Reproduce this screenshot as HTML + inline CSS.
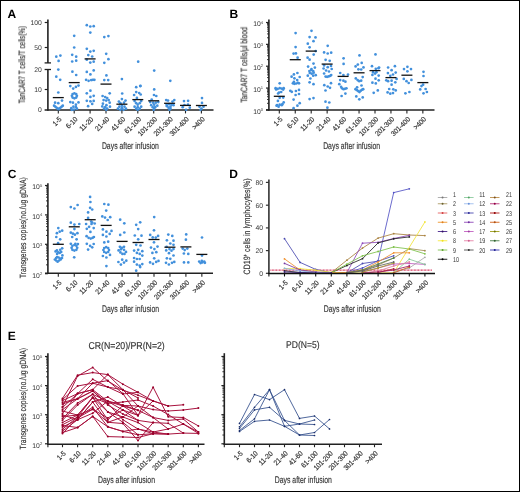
<!DOCTYPE html>
<html><head><meta charset="utf-8"><style>
html,body{margin:0;padding:0;background:#fff;}
body{width:520px;height:492px;overflow:hidden;}
svg{display:block;font-family:"Liberation Sans", sans-serif;will-change:transform;text-rendering:geometricPrecision;}
</style></head><body>
<svg width="520" height="492" viewBox="0 0 520 492">
<rect x="0.5" y="0.5" width="519" height="491" fill="#fff" stroke="#000" stroke-width="1"/>
<text x="7.4" y="17.55" font-size="12" text-anchor="start" fill="#000" font-weight="bold">A</text>
<text x="229.6" y="17.55" font-size="12" text-anchor="start" fill="#000" font-weight="bold">B</text>
<text x="7.7" y="177.5" font-size="12" text-anchor="start" fill="#000" font-weight="bold">C</text>
<text x="229.3" y="177.5" font-size="12" text-anchor="start" fill="#000" font-weight="bold">D</text>
<text x="7.8" y="340.4" font-size="12" text-anchor="start" fill="#000" font-weight="bold">E</text>
<line x1="47.9" y1="19.6" x2="47.9" y2="62.9" stroke="#222" stroke-width="1.6"/>
<line x1="44.6" y1="62.9" x2="51" y2="62.9" stroke="#222" stroke-width="1.3"/>
<line x1="44.7" y1="22.5" x2="47.9" y2="22.5" stroke="#222" stroke-width="1.2"/>
<line x1="44.7" y1="47.5" x2="47.9" y2="47.5" stroke="#222" stroke-width="1.2"/>
<line x1="47.9" y1="69.5" x2="47.9" y2="110.8" stroke="#222" stroke-width="1.6"/>
<line x1="44.6" y1="69.5" x2="51" y2="69.5" stroke="#222" stroke-width="1.3"/>
<line x1="44.7" y1="89.5" x2="47.9" y2="89.5" stroke="#222" stroke-width="1.2"/>
<text x="41.8" y="24.9" font-size="6.8" text-anchor="end" fill="#383838">100</text>
<text x="41.8" y="49.9" font-size="6.8" text-anchor="end" fill="#383838">50</text>
<text x="41.8" y="71.7" font-size="6.8" text-anchor="end" fill="#383838">20</text>
<text x="41.8" y="91.9" font-size="6.8" text-anchor="end" fill="#383838">10</text>
<text x="41.8" y="112.4" font-size="6.8" text-anchor="end" fill="#383838">0</text>
<line x1="44.6" y1="110" x2="213.5" y2="110" stroke="#222" stroke-width="1.6"/>
<line x1="58.3" y1="110" x2="58.3" y2="113.4" stroke="#222" stroke-width="1.1"/>
<text x="62.1" y="119.8" font-size="7.2" text-anchor="end" fill="#333" textLength="9.36" lengthAdjust="spacingAndGlyphs" transform="rotate(-45 62.1 119.8)" stroke="#333" stroke-width="0.18">1-5</text>
<line x1="74.2" y1="110" x2="74.2" y2="113.4" stroke="#222" stroke-width="1.1"/>
<text x="78" y="119.8" font-size="7.2" text-anchor="end" fill="#333" textLength="12.96" lengthAdjust="spacingAndGlyphs" transform="rotate(-45 78 119.8)" stroke="#333" stroke-width="0.18">6-10</text>
<line x1="90.1" y1="110" x2="90.1" y2="113.4" stroke="#222" stroke-width="1.1"/>
<text x="93.9" y="119.8" font-size="7.2" text-anchor="end" fill="#333" textLength="16.57" lengthAdjust="spacingAndGlyphs" transform="rotate(-45 93.9 119.8)" stroke="#333" stroke-width="0.18">11-20</text>
<line x1="106" y1="110" x2="106" y2="113.4" stroke="#222" stroke-width="1.1"/>
<text x="109.8" y="119.8" font-size="7.2" text-anchor="end" fill="#333" textLength="16.57" lengthAdjust="spacingAndGlyphs" transform="rotate(-45 109.8 119.8)" stroke="#333" stroke-width="0.18">21-40</text>
<line x1="121.9" y1="110" x2="121.9" y2="113.4" stroke="#222" stroke-width="1.1"/>
<text x="125.7" y="119.8" font-size="7.2" text-anchor="end" fill="#333" textLength="16.57" lengthAdjust="spacingAndGlyphs" transform="rotate(-45 125.7 119.8)" stroke="#333" stroke-width="0.18">41-60</text>
<line x1="137.8" y1="110" x2="137.8" y2="113.4" stroke="#222" stroke-width="1.1"/>
<text x="141.6" y="119.8" font-size="7.2" text-anchor="end" fill="#333" textLength="20.17" lengthAdjust="spacingAndGlyphs" transform="rotate(-45 141.6 119.8)" stroke="#333" stroke-width="0.18">61-100</text>
<line x1="153.7" y1="110" x2="153.7" y2="113.4" stroke="#222" stroke-width="1.1"/>
<text x="157.5" y="119.8" font-size="7.2" text-anchor="end" fill="#333" textLength="23.78" lengthAdjust="spacingAndGlyphs" transform="rotate(-45 157.5 119.8)" stroke="#333" stroke-width="0.18">101-200</text>
<line x1="169.6" y1="110" x2="169.6" y2="113.4" stroke="#222" stroke-width="1.1"/>
<text x="173.4" y="119.8" font-size="7.2" text-anchor="end" fill="#333" textLength="23.78" lengthAdjust="spacingAndGlyphs" transform="rotate(-45 173.4 119.8)" stroke="#333" stroke-width="0.18">201-300</text>
<line x1="185.5" y1="110" x2="185.5" y2="113.4" stroke="#222" stroke-width="1.1"/>
<text x="189.3" y="119.8" font-size="7.2" text-anchor="end" fill="#333" textLength="23.78" lengthAdjust="spacingAndGlyphs" transform="rotate(-45 189.3 119.8)" stroke="#333" stroke-width="0.18">301-400</text>
<line x1="201.4" y1="110" x2="201.4" y2="113.4" stroke="#222" stroke-width="1.1"/>
<text x="205.2" y="119.8" font-size="7.2" text-anchor="end" fill="#333" textLength="14.59" lengthAdjust="spacingAndGlyphs" transform="rotate(-45 205.2 119.8)" stroke="#333" stroke-width="0.18">&gt;400</text>
<text x="24.7" y="64.65" font-size="9.2" text-anchor="middle" fill="#333" textLength="77.3" lengthAdjust="spacingAndGlyphs" transform="rotate(-90 24.7 64.65)" stroke="#333" stroke-width="0.15">TanCAR7 T cells/T cells(%)</text>
<text x="130.4" y="148.5" font-size="9.7" text-anchor="middle" fill="#333" textLength="57" lengthAdjust="spacingAndGlyphs" stroke="#333" stroke-width="0.15">Days after infusion</text>
<circle cx="56.3" cy="56.7" r="1.35" fill="#4290dc"/>
<circle cx="60.4" cy="55.6" r="1.35" fill="#4290dc"/>
<circle cx="58.6" cy="60.9" r="1.35" fill="#4290dc"/>
<circle cx="58.3" cy="69.6" r="1.35" fill="#4290dc"/>
<circle cx="56.3" cy="76.7" r="1.35" fill="#4290dc"/>
<circle cx="60.2" cy="79.8" r="1.35" fill="#4290dc"/>
<circle cx="58.3" cy="92.5" r="1.35" fill="#4290dc"/>
<circle cx="55.1" cy="102.7" r="1.35" fill="#4290dc"/>
<circle cx="58.3" cy="103.2" r="1.35" fill="#4290dc"/>
<circle cx="62" cy="100.6" r="1.35" fill="#4290dc"/>
<circle cx="54.1" cy="105.7" r="1.35" fill="#4290dc"/>
<circle cx="55.2" cy="106.6" r="1.35" fill="#4290dc"/>
<circle cx="56.3" cy="107.5" r="1.35" fill="#4290dc"/>
<circle cx="57.4" cy="108.4" r="1.35" fill="#4290dc"/>
<circle cx="58.5" cy="109.2" r="1.35" fill="#4290dc"/>
<circle cx="59.6" cy="108.4" r="1.35" fill="#4290dc"/>
<circle cx="60.7" cy="107.5" r="1.35" fill="#4290dc"/>
<circle cx="61.8" cy="106.6" r="1.35" fill="#4290dc"/>
<circle cx="62.8" cy="105.7" r="1.35" fill="#4290dc"/>
<circle cx="74.2" cy="35.8" r="1.35" fill="#4290dc"/>
<circle cx="74.2" cy="47.5" r="1.35" fill="#4290dc"/>
<circle cx="72.2" cy="54.8" r="1.35" fill="#4290dc"/>
<circle cx="76.2" cy="56.7" r="1.35" fill="#4290dc"/>
<circle cx="72.2" cy="61.5" r="1.35" fill="#4290dc"/>
<circle cx="76.2" cy="60.7" r="1.35" fill="#4290dc"/>
<circle cx="72.4" cy="71.7" r="1.35" fill="#4290dc"/>
<circle cx="76.2" cy="75" r="1.35" fill="#4290dc"/>
<circle cx="70.3" cy="86.1" r="1.35" fill="#4290dc"/>
<circle cx="73.2" cy="88.6" r="1.35" fill="#4290dc"/>
<circle cx="75.9" cy="86.9" r="1.35" fill="#4290dc"/>
<circle cx="78.5" cy="85.6" r="1.35" fill="#4290dc"/>
<circle cx="76.9" cy="95.8" r="1.35" fill="#4290dc"/>
<circle cx="76.17" cy="97.57" r="1.35" fill="#4290dc"/>
<circle cx="74.4" cy="98.3" r="1.35" fill="#4290dc"/>
<circle cx="72.63" cy="97.57" r="1.35" fill="#4290dc"/>
<circle cx="71.9" cy="95.8" r="1.35" fill="#4290dc"/>
<circle cx="72.63" cy="94.03" r="1.35" fill="#4290dc"/>
<circle cx="74.4" cy="93.3" r="1.35" fill="#4290dc"/>
<circle cx="76.17" cy="94.03" r="1.35" fill="#4290dc"/>
<circle cx="70.3" cy="102.1" r="1.35" fill="#4290dc"/>
<circle cx="72.9" cy="102.7" r="1.35" fill="#4290dc"/>
<circle cx="78.5" cy="102.4" r="1.35" fill="#4290dc"/>
<circle cx="75.9" cy="104.7" r="1.35" fill="#4290dc"/>
<circle cx="71.3" cy="108.2" r="1.35" fill="#4290dc"/>
<circle cx="73.4" cy="106.7" r="1.35" fill="#4290dc"/>
<circle cx="75.9" cy="107.2" r="1.35" fill="#4290dc"/>
<circle cx="76.9" cy="108.7" r="1.35" fill="#4290dc"/>
<circle cx="71.8" cy="109.8" r="1.35" fill="#4290dc"/>
<circle cx="74" cy="109.5" r="1.35" fill="#4290dc"/>
<circle cx="86.8" cy="25.2" r="1.35" fill="#4290dc"/>
<circle cx="90.3" cy="26.5" r="1.35" fill="#4290dc"/>
<circle cx="93.7" cy="26.2" r="1.35" fill="#4290dc"/>
<circle cx="90.3" cy="32.6" r="1.35" fill="#4290dc"/>
<circle cx="86.8" cy="48.8" r="1.35" fill="#4290dc"/>
<circle cx="90.3" cy="51.6" r="1.35" fill="#4290dc"/>
<circle cx="93.7" cy="50.8" r="1.35" fill="#4290dc"/>
<circle cx="88.3" cy="55.1" r="1.35" fill="#4290dc"/>
<circle cx="92.2" cy="56.5" r="1.35" fill="#4290dc"/>
<circle cx="86.8" cy="59.7" r="1.35" fill="#4290dc"/>
<circle cx="90.3" cy="62.6" r="1.35" fill="#4290dc"/>
<circle cx="93.7" cy="61.7" r="1.35" fill="#4290dc"/>
<circle cx="86.8" cy="71.9" r="1.35" fill="#4290dc"/>
<circle cx="90.4" cy="74.4" r="1.35" fill="#4290dc"/>
<circle cx="93.7" cy="70.4" r="1.35" fill="#4290dc"/>
<circle cx="86.1" cy="79.8" r="1.35" fill="#4290dc"/>
<circle cx="88.6" cy="80.8" r="1.35" fill="#4290dc"/>
<circle cx="91.2" cy="80.1" r="1.35" fill="#4290dc"/>
<circle cx="92.9" cy="79.8" r="1.35" fill="#4290dc"/>
<circle cx="94.4" cy="79.8" r="1.35" fill="#4290dc"/>
<circle cx="90.4" cy="90.7" r="1.35" fill="#4290dc"/>
<circle cx="86.8" cy="93.3" r="1.35" fill="#4290dc"/>
<circle cx="90.4" cy="96.9" r="1.35" fill="#4290dc"/>
<circle cx="93.7" cy="95.8" r="1.35" fill="#4290dc"/>
<circle cx="86.8" cy="100.8" r="1.35" fill="#4290dc"/>
<circle cx="90.4" cy="101.3" r="1.35" fill="#4290dc"/>
<circle cx="93.7" cy="100.9" r="1.35" fill="#4290dc"/>
<circle cx="92.2" cy="103.9" r="1.35" fill="#4290dc"/>
<circle cx="88.1" cy="106.2" r="1.35" fill="#4290dc"/>
<circle cx="104.3" cy="37.1" r="1.35" fill="#4290dc"/>
<circle cx="108.4" cy="36.1" r="1.35" fill="#4290dc"/>
<circle cx="106.2" cy="53.8" r="1.35" fill="#4290dc"/>
<circle cx="108.4" cy="59.2" r="1.35" fill="#4290dc"/>
<circle cx="104.3" cy="62.8" r="1.35" fill="#4290dc"/>
<circle cx="106.4" cy="75.4" r="1.35" fill="#4290dc"/>
<circle cx="104.3" cy="80.1" r="1.35" fill="#4290dc"/>
<circle cx="108.2" cy="80.1" r="1.35" fill="#4290dc"/>
<circle cx="109.7" cy="93.3" r="1.35" fill="#4290dc"/>
<circle cx="102.6" cy="96" r="1.35" fill="#4290dc"/>
<circle cx="105.2" cy="97.1" r="1.35" fill="#4290dc"/>
<circle cx="107.2" cy="98.1" r="1.35" fill="#4290dc"/>
<circle cx="103.6" cy="100.1" r="1.35" fill="#4290dc"/>
<circle cx="106.2" cy="100.6" r="1.35" fill="#4290dc"/>
<circle cx="108.7" cy="100.1" r="1.35" fill="#4290dc"/>
<circle cx="109.7" cy="102.7" r="1.35" fill="#4290dc"/>
<circle cx="102.9" cy="103.7" r="1.35" fill="#4290dc"/>
<circle cx="106.4" cy="105.2" r="1.35" fill="#4290dc"/>
<circle cx="102.3" cy="106.4" r="1.35" fill="#4290dc"/>
<circle cx="110" cy="106.7" r="1.35" fill="#4290dc"/>
<circle cx="105.2" cy="107.2" r="1.35" fill="#4290dc"/>
<circle cx="104.1" cy="108.5" r="1.35" fill="#4290dc"/>
<circle cx="107.2" cy="108.5" r="1.35" fill="#4290dc"/>
<circle cx="106.2" cy="109.8" r="1.35" fill="#4290dc"/>
<circle cx="121.9" cy="79.1" r="1.35" fill="#4290dc"/>
<circle cx="122.2" cy="93.5" r="1.35" fill="#4290dc"/>
<circle cx="121.9" cy="99.1" r="1.35" fill="#4290dc"/>
<circle cx="118.9" cy="101.6" r="1.35" fill="#4290dc"/>
<circle cx="125.5" cy="100.6" r="1.35" fill="#4290dc"/>
<circle cx="120.4" cy="103.2" r="1.35" fill="#4290dc"/>
<circle cx="124" cy="102.7" r="1.35" fill="#4290dc"/>
<circle cx="119.4" cy="106.7" r="1.35" fill="#4290dc"/>
<circle cx="124.5" cy="106.7" r="1.35" fill="#4290dc"/>
<circle cx="121.9" cy="105.7" r="1.35" fill="#4290dc"/>
<circle cx="117.9" cy="108.7" r="1.35" fill="#4290dc"/>
<circle cx="126" cy="108.7" r="1.35" fill="#4290dc"/>
<circle cx="121.9" cy="108.2" r="1.35" fill="#4290dc"/>
<circle cx="120.4" cy="109.8" r="1.35" fill="#4290dc"/>
<circle cx="123.5" cy="109.8" r="1.35" fill="#4290dc"/>
<circle cx="138.2" cy="61.7" r="1.35" fill="#4290dc"/>
<circle cx="140.5" cy="85.9" r="1.35" fill="#4290dc"/>
<circle cx="136.2" cy="87.2" r="1.35" fill="#4290dc"/>
<circle cx="140.2" cy="86.1" r="1.35" fill="#4290dc"/>
<circle cx="136.2" cy="92.1" r="1.35" fill="#4290dc"/>
<circle cx="134.1" cy="95" r="1.35" fill="#4290dc"/>
<circle cx="139.2" cy="93" r="1.35" fill="#4290dc"/>
<circle cx="140.7" cy="94.5" r="1.35" fill="#4290dc"/>
<circle cx="136.9" cy="97.9" r="1.35" fill="#4290dc"/>
<circle cx="134.6" cy="101.1" r="1.35" fill="#4290dc"/>
<circle cx="141.2" cy="101.1" r="1.35" fill="#4290dc"/>
<circle cx="136.2" cy="103.2" r="1.35" fill="#4290dc"/>
<circle cx="139.7" cy="103.2" r="1.35" fill="#4290dc"/>
<circle cx="137.7" cy="104.7" r="1.35" fill="#4290dc"/>
<circle cx="134.6" cy="106.7" r="1.35" fill="#4290dc"/>
<circle cx="141.2" cy="106.7" r="1.35" fill="#4290dc"/>
<circle cx="137.7" cy="107.2" r="1.35" fill="#4290dc"/>
<circle cx="136.2" cy="108.7" r="1.35" fill="#4290dc"/>
<circle cx="139.7" cy="108.7" r="1.35" fill="#4290dc"/>
<circle cx="137.7" cy="109.8" r="1.35" fill="#4290dc"/>
<circle cx="154.2" cy="70.6" r="1.35" fill="#4290dc"/>
<circle cx="154.2" cy="89.4" r="1.35" fill="#4290dc"/>
<circle cx="154" cy="95" r="1.35" fill="#4290dc"/>
<circle cx="156.3" cy="96" r="1.35" fill="#4290dc"/>
<circle cx="151.7" cy="99.6" r="1.35" fill="#4290dc"/>
<circle cx="150.2" cy="102.1" r="1.35" fill="#4290dc"/>
<circle cx="153.2" cy="102.7" r="1.35" fill="#4290dc"/>
<circle cx="155.8" cy="102.7" r="1.35" fill="#4290dc"/>
<circle cx="158.3" cy="102.1" r="1.35" fill="#4290dc"/>
<circle cx="151.2" cy="105.2" r="1.35" fill="#4290dc"/>
<circle cx="154.2" cy="104.7" r="1.35" fill="#4290dc"/>
<circle cx="157.3" cy="105.7" r="1.35" fill="#4290dc"/>
<circle cx="152.7" cy="107.2" r="1.35" fill="#4290dc"/>
<circle cx="155.2" cy="107.2" r="1.35" fill="#4290dc"/>
<circle cx="154.2" cy="108.7" r="1.35" fill="#4290dc"/>
<circle cx="153.7" cy="109.8" r="1.35" fill="#4290dc"/>
<circle cx="170.3" cy="80.8" r="1.35" fill="#4290dc"/>
<circle cx="166.2" cy="100.1" r="1.35" fill="#4290dc"/>
<circle cx="168" cy="100.6" r="1.35" fill="#4290dc"/>
<circle cx="172.5" cy="101.6" r="1.35" fill="#4290dc"/>
<circle cx="174.3" cy="100.1" r="1.35" fill="#4290dc"/>
<circle cx="166.6" cy="104.7" r="1.35" fill="#4290dc"/>
<circle cx="169" cy="104.2" r="1.35" fill="#4290dc"/>
<circle cx="171.5" cy="104.7" r="1.35" fill="#4290dc"/>
<circle cx="173.5" cy="105.2" r="1.35" fill="#4290dc"/>
<circle cx="166.9" cy="106.2" r="1.35" fill="#4290dc"/>
<circle cx="170.5" cy="106.7" r="1.35" fill="#4290dc"/>
<circle cx="168.5" cy="107.7" r="1.35" fill="#4290dc"/>
<circle cx="170.5" cy="108.7" r="1.35" fill="#4290dc"/>
<circle cx="169.5" cy="109.8" r="1.35" fill="#4290dc"/>
<circle cx="184" cy="101.1" r="1.35" fill="#4290dc"/>
<circle cx="188.1" cy="100.8" r="1.35" fill="#4290dc"/>
<circle cx="182.7" cy="107.2" r="1.35" fill="#4290dc"/>
<circle cx="189.8" cy="107.7" r="1.35" fill="#4290dc"/>
<circle cx="186.1" cy="109.8" r="1.35" fill="#4290dc"/>
<circle cx="184.5" cy="105" r="1.35" fill="#4290dc"/>
<circle cx="188" cy="104.5" r="1.35" fill="#4290dc"/>
<circle cx="202" cy="98.1" r="1.35" fill="#4290dc"/>
<circle cx="202" cy="102.9" r="1.35" fill="#4290dc"/>
<circle cx="199.5" cy="106.7" r="1.35" fill="#4290dc"/>
<circle cx="203.5" cy="106.7" r="1.35" fill="#4290dc"/>
<circle cx="201.5" cy="108.7" r="1.35" fill="#4290dc"/>
<circle cx="200.5" cy="109.8" r="1.35" fill="#4290dc"/>
<line x1="52.8" y1="97.6" x2="63.8" y2="97.6" stroke="#111" stroke-width="1.3"/>
<line x1="68.7" y1="82.6" x2="79.7" y2="82.6" stroke="#111" stroke-width="1.3"/>
<line x1="84.6" y1="58.9" x2="95.6" y2="58.9" stroke="#111" stroke-width="1.3"/>
<line x1="100.5" y1="84.1" x2="111.5" y2="84.1" stroke="#111" stroke-width="1.3"/>
<line x1="116.4" y1="104.2" x2="127.4" y2="104.2" stroke="#111" stroke-width="1.3"/>
<line x1="132.3" y1="99.6" x2="143.3" y2="99.6" stroke="#111" stroke-width="1.3"/>
<line x1="148.2" y1="100.8" x2="159.2" y2="100.8" stroke="#111" stroke-width="1.3"/>
<line x1="164.1" y1="103.3" x2="175.1" y2="103.3" stroke="#111" stroke-width="1.3"/>
<line x1="180" y1="105.4" x2="191" y2="105.4" stroke="#111" stroke-width="1.3"/>
<line x1="195.9" y1="105.5" x2="206.9" y2="105.5" stroke="#111" stroke-width="1.3"/>
<line x1="268.9" y1="19.6" x2="268.9" y2="110.8" stroke="#222" stroke-width="1.6"/>
<line x1="266" y1="22.5" x2="268.9" y2="22.5" stroke="#222" stroke-width="1.2"/>
<text x="263" y="26.4" font-size="6.8" text-anchor="end" fill="#383838">10<tspan font-size="4.1" dy="-2.7">4</tspan></text>
<line x1="267" y1="37.77" x2="268.9" y2="37.77" stroke="#222" stroke-width="0.9"/>
<line x1="267" y1="33.92" x2="268.9" y2="33.92" stroke="#222" stroke-width="0.9"/>
<line x1="267" y1="31.19" x2="268.9" y2="31.19" stroke="#222" stroke-width="0.9"/>
<line x1="267" y1="29.08" x2="268.9" y2="29.08" stroke="#222" stroke-width="0.9"/>
<line x1="267" y1="27.35" x2="268.9" y2="27.35" stroke="#222" stroke-width="0.9"/>
<line x1="267" y1="25.88" x2="268.9" y2="25.88" stroke="#222" stroke-width="0.9"/>
<line x1="267" y1="24.62" x2="268.9" y2="24.62" stroke="#222" stroke-width="0.9"/>
<line x1="267" y1="23.5" x2="268.9" y2="23.5" stroke="#222" stroke-width="0.9"/>
<line x1="266" y1="44.35" x2="268.9" y2="44.35" stroke="#222" stroke-width="1.2"/>
<text x="263" y="48.25" font-size="6.8" text-anchor="end" fill="#383838">10<tspan font-size="4.1" dy="-2.7">3</tspan></text>
<line x1="267" y1="59.62" x2="268.9" y2="59.62" stroke="#222" stroke-width="0.9"/>
<line x1="267" y1="55.77" x2="268.9" y2="55.77" stroke="#222" stroke-width="0.9"/>
<line x1="267" y1="53.04" x2="268.9" y2="53.04" stroke="#222" stroke-width="0.9"/>
<line x1="267" y1="50.93" x2="268.9" y2="50.93" stroke="#222" stroke-width="0.9"/>
<line x1="267" y1="49.2" x2="268.9" y2="49.2" stroke="#222" stroke-width="0.9"/>
<line x1="267" y1="47.73" x2="268.9" y2="47.73" stroke="#222" stroke-width="0.9"/>
<line x1="267" y1="46.47" x2="268.9" y2="46.47" stroke="#222" stroke-width="0.9"/>
<line x1="267" y1="45.35" x2="268.9" y2="45.35" stroke="#222" stroke-width="0.9"/>
<line x1="266" y1="66.2" x2="268.9" y2="66.2" stroke="#222" stroke-width="1.2"/>
<text x="263" y="70.1" font-size="6.8" text-anchor="end" fill="#383838">10<tspan font-size="4.1" dy="-2.7">2</tspan></text>
<line x1="267" y1="81.47" x2="268.9" y2="81.47" stroke="#222" stroke-width="0.9"/>
<line x1="267" y1="77.62" x2="268.9" y2="77.62" stroke="#222" stroke-width="0.9"/>
<line x1="267" y1="74.89" x2="268.9" y2="74.89" stroke="#222" stroke-width="0.9"/>
<line x1="267" y1="72.78" x2="268.9" y2="72.78" stroke="#222" stroke-width="0.9"/>
<line x1="267" y1="71.05" x2="268.9" y2="71.05" stroke="#222" stroke-width="0.9"/>
<line x1="267" y1="69.58" x2="268.9" y2="69.58" stroke="#222" stroke-width="0.9"/>
<line x1="267" y1="68.32" x2="268.9" y2="68.32" stroke="#222" stroke-width="0.9"/>
<line x1="267" y1="67.2" x2="268.9" y2="67.2" stroke="#222" stroke-width="0.9"/>
<line x1="266" y1="88.05" x2="268.9" y2="88.05" stroke="#222" stroke-width="1.2"/>
<text x="263" y="91.95" font-size="6.8" text-anchor="end" fill="#383838">10<tspan font-size="4.1" dy="-2.7">1</tspan></text>
<line x1="267" y1="103.32" x2="268.9" y2="103.32" stroke="#222" stroke-width="0.9"/>
<line x1="267" y1="99.47" x2="268.9" y2="99.47" stroke="#222" stroke-width="0.9"/>
<line x1="267" y1="96.74" x2="268.9" y2="96.74" stroke="#222" stroke-width="0.9"/>
<line x1="267" y1="94.63" x2="268.9" y2="94.63" stroke="#222" stroke-width="0.9"/>
<line x1="267" y1="92.9" x2="268.9" y2="92.9" stroke="#222" stroke-width="0.9"/>
<line x1="267" y1="91.43" x2="268.9" y2="91.43" stroke="#222" stroke-width="0.9"/>
<line x1="267" y1="90.17" x2="268.9" y2="90.17" stroke="#222" stroke-width="0.9"/>
<line x1="267" y1="89.05" x2="268.9" y2="89.05" stroke="#222" stroke-width="0.9"/>
<line x1="266" y1="109.9" x2="268.9" y2="109.9" stroke="#222" stroke-width="1.2"/>
<text x="263" y="113.8" font-size="6.8" text-anchor="end" fill="#383838">10<tspan font-size="4.1" dy="-2.7">0</tspan></text>
<line x1="266" y1="110" x2="434.5" y2="110" stroke="#222" stroke-width="1.6"/>
<line x1="279.3" y1="110" x2="279.3" y2="113.4" stroke="#222" stroke-width="1.1"/>
<text x="283.1" y="119.8" font-size="7.2" text-anchor="end" fill="#333" textLength="9.36" lengthAdjust="spacingAndGlyphs" transform="rotate(-45 283.1 119.8)" stroke="#333" stroke-width="0.18">1-5</text>
<line x1="295.25" y1="110" x2="295.25" y2="113.4" stroke="#222" stroke-width="1.1"/>
<text x="299.05" y="119.8" font-size="7.2" text-anchor="end" fill="#333" textLength="12.96" lengthAdjust="spacingAndGlyphs" transform="rotate(-45 299.05 119.8)" stroke="#333" stroke-width="0.18">6-10</text>
<line x1="311.2" y1="110" x2="311.2" y2="113.4" stroke="#222" stroke-width="1.1"/>
<text x="315" y="119.8" font-size="7.2" text-anchor="end" fill="#333" textLength="16.57" lengthAdjust="spacingAndGlyphs" transform="rotate(-45 315 119.8)" stroke="#333" stroke-width="0.18">11-20</text>
<line x1="327.15" y1="110" x2="327.15" y2="113.4" stroke="#222" stroke-width="1.1"/>
<text x="330.95" y="119.8" font-size="7.2" text-anchor="end" fill="#333" textLength="16.57" lengthAdjust="spacingAndGlyphs" transform="rotate(-45 330.95 119.8)" stroke="#333" stroke-width="0.18">21-40</text>
<line x1="343.1" y1="110" x2="343.1" y2="113.4" stroke="#222" stroke-width="1.1"/>
<text x="346.9" y="119.8" font-size="7.2" text-anchor="end" fill="#333" textLength="16.57" lengthAdjust="spacingAndGlyphs" transform="rotate(-45 346.9 119.8)" stroke="#333" stroke-width="0.18">41-60</text>
<line x1="359.05" y1="110" x2="359.05" y2="113.4" stroke="#222" stroke-width="1.1"/>
<text x="362.85" y="119.8" font-size="7.2" text-anchor="end" fill="#333" textLength="20.17" lengthAdjust="spacingAndGlyphs" transform="rotate(-45 362.85 119.8)" stroke="#333" stroke-width="0.18">61-100</text>
<line x1="375" y1="110" x2="375" y2="113.4" stroke="#222" stroke-width="1.1"/>
<text x="378.8" y="119.8" font-size="7.2" text-anchor="end" fill="#333" textLength="23.78" lengthAdjust="spacingAndGlyphs" transform="rotate(-45 378.8 119.8)" stroke="#333" stroke-width="0.18">101-200</text>
<line x1="390.95" y1="110" x2="390.95" y2="113.4" stroke="#222" stroke-width="1.1"/>
<text x="394.75" y="119.8" font-size="7.2" text-anchor="end" fill="#333" textLength="23.78" lengthAdjust="spacingAndGlyphs" transform="rotate(-45 394.75 119.8)" stroke="#333" stroke-width="0.18">201-300</text>
<line x1="406.9" y1="110" x2="406.9" y2="113.4" stroke="#222" stroke-width="1.1"/>
<text x="410.7" y="119.8" font-size="7.2" text-anchor="end" fill="#333" textLength="23.78" lengthAdjust="spacingAndGlyphs" transform="rotate(-45 410.7 119.8)" stroke="#333" stroke-width="0.18">301-400</text>
<line x1="422.85" y1="110" x2="422.85" y2="113.4" stroke="#222" stroke-width="1.1"/>
<text x="426.65" y="119.8" font-size="7.2" text-anchor="end" fill="#333" textLength="14.59" lengthAdjust="spacingAndGlyphs" transform="rotate(-45 426.65 119.8)" stroke="#333" stroke-width="0.18">&gt;400</text>
<text x="247" y="64.8" font-size="9.2" text-anchor="middle" fill="#333" textLength="75.6" lengthAdjust="spacingAndGlyphs" transform="rotate(-90 247 64.8)" stroke="#333" stroke-width="0.15">TanCAR7 T cells/μl blood</text>
<text x="351.65" y="148.5" font-size="9.7" text-anchor="middle" fill="#333" textLength="57" lengthAdjust="spacingAndGlyphs" stroke="#333" stroke-width="0.15">Days after infusion</text>
<circle cx="279.7" cy="83.3" r="1.35" fill="#4290dc"/>
<circle cx="275.6" cy="88.2" r="1.35" fill="#4290dc"/>
<circle cx="277.6" cy="88.9" r="1.35" fill="#4290dc"/>
<circle cx="279.7" cy="88.2" r="1.35" fill="#4290dc"/>
<circle cx="281.7" cy="88.6" r="1.35" fill="#4290dc"/>
<circle cx="283.7" cy="88.2" r="1.35" fill="#4290dc"/>
<circle cx="276.1" cy="89.4" r="1.35" fill="#4290dc"/>
<circle cx="283.2" cy="89.6" r="1.35" fill="#4290dc"/>
<circle cx="279.1" cy="92.5" r="1.35" fill="#4290dc"/>
<circle cx="281.2" cy="92" r="1.35" fill="#4290dc"/>
<circle cx="278.1" cy="93.5" r="1.35" fill="#4290dc"/>
<circle cx="279.7" cy="97.8" r="1.35" fill="#4290dc"/>
<circle cx="283.2" cy="97.6" r="1.35" fill="#4290dc"/>
<circle cx="277.9" cy="100.9" r="1.35" fill="#4290dc"/>
<circle cx="283.7" cy="102.4" r="1.35" fill="#4290dc"/>
<circle cx="277.1" cy="105.2" r="1.35" fill="#4290dc"/>
<circle cx="279.7" cy="104.7" r="1.35" fill="#4290dc"/>
<circle cx="281.7" cy="105.2" r="1.35" fill="#4290dc"/>
<circle cx="282.4" cy="104.2" r="1.35" fill="#4290dc"/>
<circle cx="278.6" cy="106.7" r="1.35" fill="#4290dc"/>
<circle cx="276.6" cy="105.7" r="1.35" fill="#4290dc"/>
<circle cx="295.6" cy="33.1" r="1.35" fill="#4290dc"/>
<circle cx="295.6" cy="47.1" r="1.35" fill="#4290dc"/>
<circle cx="293.6" cy="53.6" r="1.35" fill="#4290dc"/>
<circle cx="295.9" cy="53.4" r="1.35" fill="#4290dc"/>
<circle cx="297.6" cy="57.7" r="1.35" fill="#4290dc"/>
<circle cx="293.9" cy="74.4" r="1.35" fill="#4290dc"/>
<circle cx="297.4" cy="73" r="1.35" fill="#4290dc"/>
<circle cx="291.6" cy="76.7" r="1.35" fill="#4290dc"/>
<circle cx="294.4" cy="78.3" r="1.35" fill="#4290dc"/>
<circle cx="299.7" cy="77" r="1.35" fill="#4290dc"/>
<circle cx="297.2" cy="80.1" r="1.35" fill="#4290dc"/>
<circle cx="292.9" cy="83.3" r="1.35" fill="#4290dc"/>
<circle cx="294.4" cy="83.8" r="1.35" fill="#4290dc"/>
<circle cx="296.2" cy="83.5" r="1.35" fill="#4290dc"/>
<circle cx="297.9" cy="82.8" r="1.35" fill="#4290dc"/>
<circle cx="293.9" cy="81.8" r="1.35" fill="#4290dc"/>
<circle cx="299" cy="83.3" r="1.35" fill="#4290dc"/>
<circle cx="290.3" cy="90.8" r="1.35" fill="#4290dc"/>
<circle cx="291.8" cy="91.8" r="1.35" fill="#4290dc"/>
<circle cx="295.9" cy="91" r="1.35" fill="#4290dc"/>
<circle cx="299" cy="89.9" r="1.35" fill="#4290dc"/>
<circle cx="299" cy="94" r="1.35" fill="#4290dc"/>
<circle cx="295.6" cy="95" r="1.35" fill="#4290dc"/>
<circle cx="293.6" cy="99.6" r="1.35" fill="#4290dc"/>
<circle cx="299.7" cy="103.2" r="1.35" fill="#4290dc"/>
<circle cx="297.4" cy="105.7" r="1.35" fill="#4290dc"/>
<circle cx="293.6" cy="108.2" r="1.35" fill="#4290dc"/>
<circle cx="311.5" cy="30.8" r="1.35" fill="#4290dc"/>
<circle cx="309.6" cy="37.1" r="1.35" fill="#4290dc"/>
<circle cx="315.5" cy="37.4" r="1.35" fill="#4290dc"/>
<circle cx="313.5" cy="41.2" r="1.35" fill="#4290dc"/>
<circle cx="307.8" cy="43.7" r="1.35" fill="#4290dc"/>
<circle cx="309.6" cy="47.3" r="1.35" fill="#4290dc"/>
<circle cx="315.7" cy="51.1" r="1.35" fill="#4290dc"/>
<circle cx="313.7" cy="54.6" r="1.35" fill="#4290dc"/>
<circle cx="307.6" cy="57.7" r="1.35" fill="#4290dc"/>
<circle cx="309.6" cy="59.7" r="1.35" fill="#4290dc"/>
<circle cx="313.5" cy="63.6" r="1.35" fill="#4290dc"/>
<circle cx="308.1" cy="66.6" r="1.35" fill="#4290dc"/>
<circle cx="314.9" cy="67.6" r="1.35" fill="#4290dc"/>
<circle cx="311.5" cy="69.1" r="1.35" fill="#4290dc"/>
<circle cx="309.4" cy="71.1" r="1.35" fill="#4290dc"/>
<circle cx="311.2" cy="70.1" r="1.35" fill="#4290dc"/>
<circle cx="313.2" cy="71.1" r="1.35" fill="#4290dc"/>
<circle cx="313.7" cy="72.7" r="1.35" fill="#4290dc"/>
<circle cx="311.7" cy="73.7" r="1.35" fill="#4290dc"/>
<circle cx="309.8" cy="73" r="1.35" fill="#4290dc"/>
<circle cx="307.8" cy="75.7" r="1.35" fill="#4290dc"/>
<circle cx="313.2" cy="75.7" r="1.35" fill="#4290dc"/>
<circle cx="315.7" cy="75.2" r="1.35" fill="#4290dc"/>
<circle cx="310.4" cy="78.5" r="1.35" fill="#4290dc"/>
<circle cx="309.6" cy="82.3" r="1.35" fill="#4290dc"/>
<circle cx="313.5" cy="84.2" r="1.35" fill="#4290dc"/>
<circle cx="309.6" cy="99.1" r="1.35" fill="#4290dc"/>
<circle cx="313.5" cy="98.1" r="1.35" fill="#4290dc"/>
<circle cx="327.7" cy="45.8" r="1.35" fill="#4290dc"/>
<circle cx="324.1" cy="52.4" r="1.35" fill="#4290dc"/>
<circle cx="327.7" cy="53.5" r="1.35" fill="#4290dc"/>
<circle cx="331.2" cy="52.7" r="1.35" fill="#4290dc"/>
<circle cx="325.6" cy="59.8" r="1.35" fill="#4290dc"/>
<circle cx="329.7" cy="60.8" r="1.35" fill="#4290dc"/>
<circle cx="324.1" cy="65.4" r="1.35" fill="#4290dc"/>
<circle cx="331" cy="65.9" r="1.35" fill="#4290dc"/>
<circle cx="327.7" cy="67.2" r="1.35" fill="#4290dc"/>
<circle cx="323.6" cy="68.5" r="1.35" fill="#4290dc"/>
<circle cx="331.7" cy="69" r="1.35" fill="#4290dc"/>
<circle cx="326.1" cy="70.5" r="1.35" fill="#4290dc"/>
<circle cx="329" cy="71.5" r="1.35" fill="#4290dc"/>
<circle cx="324.1" cy="73.5" r="1.35" fill="#4290dc"/>
<circle cx="331.2" cy="75.1" r="1.35" fill="#4290dc"/>
<circle cx="325.6" cy="76.6" r="1.35" fill="#4290dc"/>
<circle cx="327.1" cy="76.8" r="1.35" fill="#4290dc"/>
<circle cx="328.7" cy="76.4" r="1.35" fill="#4290dc"/>
<circle cx="330.2" cy="75.8" r="1.35" fill="#4290dc"/>
<circle cx="331" cy="83.2" r="1.35" fill="#4290dc"/>
<circle cx="324.3" cy="85.2" r="1.35" fill="#4290dc"/>
<circle cx="327.7" cy="86.5" r="1.35" fill="#4290dc"/>
<circle cx="330" cy="87.8" r="1.35" fill="#4290dc"/>
<circle cx="325.5" cy="90.5" r="1.35" fill="#4290dc"/>
<circle cx="325.5" cy="101.7" r="1.35" fill="#4290dc"/>
<circle cx="329.3" cy="102.5" r="1.35" fill="#4290dc"/>
<circle cx="327.4" cy="107.7" r="1.35" fill="#4290dc"/>
<circle cx="343.6" cy="58.3" r="1.35" fill="#4290dc"/>
<circle cx="343.6" cy="63.9" r="1.35" fill="#4290dc"/>
<circle cx="340.2" cy="73" r="1.35" fill="#4290dc"/>
<circle cx="343.4" cy="75.1" r="1.35" fill="#4290dc"/>
<circle cx="348" cy="74.6" r="1.35" fill="#4290dc"/>
<circle cx="340.2" cy="80.1" r="1.35" fill="#4290dc"/>
<circle cx="343.4" cy="80.7" r="1.35" fill="#4290dc"/>
<circle cx="345.4" cy="81.7" r="1.35" fill="#4290dc"/>
<circle cx="339.3" cy="84.2" r="1.35" fill="#4290dc"/>
<circle cx="341.1" cy="86.8" r="1.35" fill="#4290dc"/>
<circle cx="342" cy="88.3" r="1.35" fill="#4290dc"/>
<circle cx="343.5" cy="89.2" r="1.35" fill="#4290dc"/>
<circle cx="344.9" cy="88.8" r="1.35" fill="#4290dc"/>
<circle cx="346.4" cy="88.3" r="1.35" fill="#4290dc"/>
<circle cx="345.4" cy="93.6" r="1.35" fill="#4290dc"/>
<circle cx="341.6" cy="96" r="1.35" fill="#4290dc"/>
<circle cx="359.5" cy="55.4" r="1.35" fill="#4290dc"/>
<circle cx="361.7" cy="62.9" r="1.35" fill="#4290dc"/>
<circle cx="357.8" cy="64.6" r="1.35" fill="#4290dc"/>
<circle cx="355.6" cy="66.4" r="1.35" fill="#4290dc"/>
<circle cx="363.5" cy="67.4" r="1.35" fill="#4290dc"/>
<circle cx="358.4" cy="69.3" r="1.35" fill="#4290dc"/>
<circle cx="361.2" cy="69.5" r="1.35" fill="#4290dc"/>
<circle cx="362.7" cy="77.1" r="1.35" fill="#4290dc"/>
<circle cx="355.8" cy="78.4" r="1.35" fill="#4290dc"/>
<circle cx="357.6" cy="80.1" r="1.35" fill="#4290dc"/>
<circle cx="359.2" cy="81.2" r="1.35" fill="#4290dc"/>
<circle cx="361.2" cy="80.7" r="1.35" fill="#4290dc"/>
<circle cx="361.5" cy="85.5" r="1.35" fill="#4290dc"/>
<circle cx="357.1" cy="87.3" r="1.35" fill="#4290dc"/>
<circle cx="355.5" cy="89.2" r="1.35" fill="#4290dc"/>
<circle cx="356.9" cy="90.2" r="1.35" fill="#4290dc"/>
<circle cx="358.4" cy="91.2" r="1.35" fill="#4290dc"/>
<circle cx="359.5" cy="92.1" r="1.35" fill="#4290dc"/>
<circle cx="360.8" cy="90.7" r="1.35" fill="#4290dc"/>
<circle cx="362.2" cy="89.7" r="1.35" fill="#4290dc"/>
<circle cx="363.2" cy="89.2" r="1.35" fill="#4290dc"/>
<circle cx="356.3" cy="96.4" r="1.35" fill="#4290dc"/>
<circle cx="362.7" cy="97.4" r="1.35" fill="#4290dc"/>
<circle cx="359.3" cy="99.3" r="1.35" fill="#4290dc"/>
<circle cx="375.5" cy="54.4" r="1.35" fill="#4290dc"/>
<circle cx="372" cy="66.2" r="1.35" fill="#4290dc"/>
<circle cx="375.8" cy="68.8" r="1.35" fill="#4290dc"/>
<circle cx="378.5" cy="68.2" r="1.35" fill="#4290dc"/>
<circle cx="379.1" cy="67.5" r="1.35" fill="#4290dc"/>
<circle cx="373.1" cy="72.2" r="1.35" fill="#4290dc"/>
<circle cx="375.1" cy="73.6" r="1.35" fill="#4290dc"/>
<circle cx="376.4" cy="72.2" r="1.35" fill="#4290dc"/>
<circle cx="372.4" cy="74.9" r="1.35" fill="#4290dc"/>
<circle cx="378.7" cy="75.6" r="1.35" fill="#4290dc"/>
<circle cx="375.5" cy="78.7" r="1.35" fill="#4290dc"/>
<circle cx="378.7" cy="80.3" r="1.35" fill="#4290dc"/>
<circle cx="372.4" cy="82.7" r="1.35" fill="#4290dc"/>
<circle cx="375.8" cy="83.4" r="1.35" fill="#4290dc"/>
<circle cx="377.8" cy="90.4" r="1.35" fill="#4290dc"/>
<circle cx="373.7" cy="92.8" r="1.35" fill="#4290dc"/>
<circle cx="388.1" cy="67.5" r="1.35" fill="#4290dc"/>
<circle cx="394.9" cy="66.2" r="1.35" fill="#4290dc"/>
<circle cx="391.6" cy="70.2" r="1.35" fill="#4290dc"/>
<circle cx="387.9" cy="73.1" r="1.35" fill="#4290dc"/>
<circle cx="395.7" cy="72.6" r="1.35" fill="#4290dc"/>
<circle cx="393" cy="74.5" r="1.35" fill="#4290dc"/>
<circle cx="390.3" cy="75.8" r="1.35" fill="#4290dc"/>
<circle cx="386.3" cy="80.3" r="1.35" fill="#4290dc"/>
<circle cx="388.1" cy="81.2" r="1.35" fill="#4290dc"/>
<circle cx="391.6" cy="80.7" r="1.35" fill="#4290dc"/>
<circle cx="395.3" cy="82.3" r="1.35" fill="#4290dc"/>
<circle cx="396.6" cy="78.9" r="1.35" fill="#4290dc"/>
<circle cx="391.6" cy="84.7" r="1.35" fill="#4290dc"/>
<circle cx="389.2" cy="89" r="1.35" fill="#4290dc"/>
<circle cx="393.3" cy="89.3" r="1.35" fill="#4290dc"/>
<circle cx="395.7" cy="90.4" r="1.35" fill="#4290dc"/>
<circle cx="387.6" cy="92.4" r="1.35" fill="#4290dc"/>
<circle cx="390.3" cy="93.7" r="1.35" fill="#4290dc"/>
<circle cx="393" cy="93.1" r="1.35" fill="#4290dc"/>
<circle cx="404" cy="69.1" r="1.35" fill="#4290dc"/>
<circle cx="407.4" cy="66.8" r="1.35" fill="#4290dc"/>
<circle cx="411" cy="69.1" r="1.35" fill="#4290dc"/>
<circle cx="407.4" cy="71.3" r="1.35" fill="#4290dc"/>
<circle cx="403.8" cy="78.9" r="1.35" fill="#4290dc"/>
<circle cx="406.5" cy="81.2" r="1.35" fill="#4290dc"/>
<circle cx="408.7" cy="83" r="1.35" fill="#4290dc"/>
<circle cx="411.4" cy="79.9" r="1.35" fill="#4290dc"/>
<circle cx="405.4" cy="93.3" r="1.35" fill="#4290dc"/>
<circle cx="409.4" cy="92" r="1.35" fill="#4290dc"/>
<circle cx="423.5" cy="71.8" r="1.35" fill="#4290dc"/>
<circle cx="423.5" cy="76" r="1.35" fill="#4290dc"/>
<circle cx="421.5" cy="86.1" r="1.35" fill="#4290dc"/>
<circle cx="423.1" cy="84.7" r="1.35" fill="#4290dc"/>
<circle cx="420.2" cy="89.4" r="1.35" fill="#4290dc"/>
<circle cx="425.6" cy="89" r="1.35" fill="#4290dc"/>
<circle cx="423.5" cy="93.3" r="1.35" fill="#4290dc"/>
<circle cx="426.9" cy="92" r="1.35" fill="#4290dc"/>
<line x1="273.8" y1="96.3" x2="284.8" y2="96.3" stroke="#111" stroke-width="1.3"/>
<line x1="289.75" y1="59.7" x2="300.75" y2="59.7" stroke="#111" stroke-width="1.3"/>
<line x1="305.7" y1="51.1" x2="316.7" y2="51.1" stroke="#111" stroke-width="1.3"/>
<line x1="321.65" y1="64.1" x2="332.65" y2="64.1" stroke="#111" stroke-width="1.3"/>
<line x1="337.6" y1="76.4" x2="348.6" y2="76.4" stroke="#111" stroke-width="1.3"/>
<line x1="353.55" y1="72.8" x2="364.55" y2="72.8" stroke="#111" stroke-width="1.3"/>
<line x1="369.5" y1="70.6" x2="380.5" y2="70.6" stroke="#111" stroke-width="1.3"/>
<line x1="385.45" y1="77.6" x2="396.45" y2="77.6" stroke="#111" stroke-width="1.3"/>
<line x1="401.4" y1="75.2" x2="412.4" y2="75.2" stroke="#111" stroke-width="1.3"/>
<line x1="417.35" y1="82.6" x2="428.35" y2="82.6" stroke="#111" stroke-width="1.3"/>
<line x1="47.9" y1="183.3" x2="47.9" y2="274" stroke="#222" stroke-width="1.6"/>
<line x1="45" y1="185.5" x2="47.9" y2="185.5" stroke="#222" stroke-width="1.2"/>
<text x="42.2" y="189.4" font-size="6.8" text-anchor="end" fill="#383838">10<tspan font-size="4.1" dy="-2.7">5</tspan></text>
<line x1="46" y1="206.05" x2="47.9" y2="206.05" stroke="#222" stroke-width="0.9"/>
<line x1="46" y1="200.87" x2="47.9" y2="200.87" stroke="#222" stroke-width="0.9"/>
<line x1="46" y1="197.2" x2="47.9" y2="197.2" stroke="#222" stroke-width="0.9"/>
<line x1="46" y1="194.35" x2="47.9" y2="194.35" stroke="#222" stroke-width="0.9"/>
<line x1="46" y1="192.02" x2="47.9" y2="192.02" stroke="#222" stroke-width="0.9"/>
<line x1="46" y1="190.05" x2="47.9" y2="190.05" stroke="#222" stroke-width="0.9"/>
<line x1="46" y1="188.35" x2="47.9" y2="188.35" stroke="#222" stroke-width="0.9"/>
<line x1="46" y1="186.85" x2="47.9" y2="186.85" stroke="#222" stroke-width="0.9"/>
<line x1="45" y1="214.9" x2="47.9" y2="214.9" stroke="#222" stroke-width="1.2"/>
<text x="42.2" y="218.8" font-size="6.8" text-anchor="end" fill="#383838">10<tspan font-size="4.1" dy="-2.7">4</tspan></text>
<line x1="46" y1="235.45" x2="47.9" y2="235.45" stroke="#222" stroke-width="0.9"/>
<line x1="46" y1="230.27" x2="47.9" y2="230.27" stroke="#222" stroke-width="0.9"/>
<line x1="46" y1="226.6" x2="47.9" y2="226.6" stroke="#222" stroke-width="0.9"/>
<line x1="46" y1="223.75" x2="47.9" y2="223.75" stroke="#222" stroke-width="0.9"/>
<line x1="46" y1="221.42" x2="47.9" y2="221.42" stroke="#222" stroke-width="0.9"/>
<line x1="46" y1="219.45" x2="47.9" y2="219.45" stroke="#222" stroke-width="0.9"/>
<line x1="46" y1="217.75" x2="47.9" y2="217.75" stroke="#222" stroke-width="0.9"/>
<line x1="46" y1="216.25" x2="47.9" y2="216.25" stroke="#222" stroke-width="0.9"/>
<line x1="45" y1="244.3" x2="47.9" y2="244.3" stroke="#222" stroke-width="1.2"/>
<text x="42.2" y="248.2" font-size="6.8" text-anchor="end" fill="#383838">10<tspan font-size="4.1" dy="-2.7">3</tspan></text>
<line x1="46" y1="264.85" x2="47.9" y2="264.85" stroke="#222" stroke-width="0.9"/>
<line x1="46" y1="259.67" x2="47.9" y2="259.67" stroke="#222" stroke-width="0.9"/>
<line x1="46" y1="256" x2="47.9" y2="256" stroke="#222" stroke-width="0.9"/>
<line x1="46" y1="253.15" x2="47.9" y2="253.15" stroke="#222" stroke-width="0.9"/>
<line x1="46" y1="250.82" x2="47.9" y2="250.82" stroke="#222" stroke-width="0.9"/>
<line x1="46" y1="248.85" x2="47.9" y2="248.85" stroke="#222" stroke-width="0.9"/>
<line x1="46" y1="247.15" x2="47.9" y2="247.15" stroke="#222" stroke-width="0.9"/>
<line x1="46" y1="245.65" x2="47.9" y2="245.65" stroke="#222" stroke-width="0.9"/>
<line x1="45" y1="273.7" x2="47.9" y2="273.7" stroke="#222" stroke-width="1.2"/>
<text x="42.2" y="277.6" font-size="6.8" text-anchor="end" fill="#383838">10<tspan font-size="4.1" dy="-2.7">2</tspan></text>
<line x1="45" y1="273.3" x2="213" y2="273.3" stroke="#222" stroke-width="1.6"/>
<line x1="58.3" y1="273.3" x2="58.3" y2="276.7" stroke="#222" stroke-width="1.1"/>
<text x="62.1" y="283.1" font-size="7.2" text-anchor="end" fill="#333" textLength="9.36" lengthAdjust="spacingAndGlyphs" transform="rotate(-45 62.1 283.1)" stroke="#333" stroke-width="0.18">1-5</text>
<line x1="74.25" y1="273.3" x2="74.25" y2="276.7" stroke="#222" stroke-width="1.1"/>
<text x="78.05" y="283.1" font-size="7.2" text-anchor="end" fill="#333" textLength="12.96" lengthAdjust="spacingAndGlyphs" transform="rotate(-45 78.05 283.1)" stroke="#333" stroke-width="0.18">6-10</text>
<line x1="90.2" y1="273.3" x2="90.2" y2="276.7" stroke="#222" stroke-width="1.1"/>
<text x="94" y="283.1" font-size="7.2" text-anchor="end" fill="#333" textLength="16.57" lengthAdjust="spacingAndGlyphs" transform="rotate(-45 94 283.1)" stroke="#333" stroke-width="0.18">11-20</text>
<line x1="106.15" y1="273.3" x2="106.15" y2="276.7" stroke="#222" stroke-width="1.1"/>
<text x="109.95" y="283.1" font-size="7.2" text-anchor="end" fill="#333" textLength="16.57" lengthAdjust="spacingAndGlyphs" transform="rotate(-45 109.95 283.1)" stroke="#333" stroke-width="0.18">21-40</text>
<line x1="122.1" y1="273.3" x2="122.1" y2="276.7" stroke="#222" stroke-width="1.1"/>
<text x="125.9" y="283.1" font-size="7.2" text-anchor="end" fill="#333" textLength="16.57" lengthAdjust="spacingAndGlyphs" transform="rotate(-45 125.9 283.1)" stroke="#333" stroke-width="0.18">41-60</text>
<line x1="138.05" y1="273.3" x2="138.05" y2="276.7" stroke="#222" stroke-width="1.1"/>
<text x="141.85" y="283.1" font-size="7.2" text-anchor="end" fill="#333" textLength="20.17" lengthAdjust="spacingAndGlyphs" transform="rotate(-45 141.85 283.1)" stroke="#333" stroke-width="0.18">61-100</text>
<line x1="154" y1="273.3" x2="154" y2="276.7" stroke="#222" stroke-width="1.1"/>
<text x="157.8" y="283.1" font-size="7.2" text-anchor="end" fill="#333" textLength="23.78" lengthAdjust="spacingAndGlyphs" transform="rotate(-45 157.8 283.1)" stroke="#333" stroke-width="0.18">101-200</text>
<line x1="169.95" y1="273.3" x2="169.95" y2="276.7" stroke="#222" stroke-width="1.1"/>
<text x="173.75" y="283.1" font-size="7.2" text-anchor="end" fill="#333" textLength="23.78" lengthAdjust="spacingAndGlyphs" transform="rotate(-45 173.75 283.1)" stroke="#333" stroke-width="0.18">201-300</text>
<line x1="185.9" y1="273.3" x2="185.9" y2="276.7" stroke="#222" stroke-width="1.1"/>
<text x="189.7" y="283.1" font-size="7.2" text-anchor="end" fill="#333" textLength="23.78" lengthAdjust="spacingAndGlyphs" transform="rotate(-45 189.7 283.1)" stroke="#333" stroke-width="0.18">301-400</text>
<line x1="201.85" y1="273.3" x2="201.85" y2="276.7" stroke="#222" stroke-width="1.1"/>
<text x="205.65" y="283.1" font-size="7.2" text-anchor="end" fill="#333" textLength="14.59" lengthAdjust="spacingAndGlyphs" transform="rotate(-45 205.65 283.1)" stroke="#333" stroke-width="0.18">&gt;400</text>
<text x="25.8" y="227.8" font-size="9" text-anchor="middle" fill="#333" textLength="101" lengthAdjust="spacingAndGlyphs" transform="rotate(-90 25.8 227.8)" stroke="#333" stroke-width="0.15">Transgenes copies(no./ug gDNA)</text>
<text x="130.55" y="312.1" font-size="9.7" text-anchor="middle" fill="#333" textLength="57" lengthAdjust="spacingAndGlyphs" stroke="#333" stroke-width="0.15">Days after infusion</text>
<circle cx="58.3" cy="228.1" r="1.35" fill="#4290dc"/>
<circle cx="56.9" cy="233.2" r="1.35" fill="#4290dc"/>
<circle cx="59.7" cy="231.7" r="1.35" fill="#4290dc"/>
<circle cx="62.2" cy="230.7" r="1.35" fill="#4290dc"/>
<circle cx="56.3" cy="237" r="1.35" fill="#4290dc"/>
<circle cx="60.2" cy="239.3" r="1.35" fill="#4290dc"/>
<circle cx="58.1" cy="243.2" r="1.35" fill="#4290dc"/>
<circle cx="55.6" cy="251.4" r="1.35" fill="#4290dc"/>
<circle cx="56.9" cy="250.4" r="1.35" fill="#4290dc"/>
<circle cx="60.2" cy="249.8" r="1.35" fill="#4290dc"/>
<circle cx="62.2" cy="248.3" r="1.35" fill="#4290dc"/>
<circle cx="58.1" cy="252.4" r="1.35" fill="#4290dc"/>
<circle cx="59.7" cy="252.9" r="1.35" fill="#4290dc"/>
<circle cx="61.2" cy="251.9" r="1.35" fill="#4290dc"/>
<circle cx="57.1" cy="253.9" r="1.35" fill="#4290dc"/>
<circle cx="62.4" cy="255.4" r="1.35" fill="#4290dc"/>
<circle cx="54.9" cy="259.5" r="1.35" fill="#4290dc"/>
<circle cx="56.1" cy="258" r="1.35" fill="#4290dc"/>
<circle cx="57.1" cy="257" r="1.35" fill="#4290dc"/>
<circle cx="58.6" cy="257.5" r="1.35" fill="#4290dc"/>
<circle cx="60.2" cy="258.5" r="1.35" fill="#4290dc"/>
<circle cx="62" cy="258" r="1.35" fill="#4290dc"/>
<circle cx="56.1" cy="260.5" r="1.35" fill="#4290dc"/>
<circle cx="57.6" cy="261.7" r="1.35" fill="#4290dc"/>
<circle cx="59.1" cy="260.5" r="1.35" fill="#4290dc"/>
<circle cx="60.7" cy="259.5" r="1.35" fill="#4290dc"/>
<circle cx="70.8" cy="207.1" r="1.35" fill="#4290dc"/>
<circle cx="74.4" cy="208.5" r="1.35" fill="#4290dc"/>
<circle cx="77.6" cy="205" r="1.35" fill="#4290dc"/>
<circle cx="70.8" cy="222.7" r="1.35" fill="#4290dc"/>
<circle cx="74.4" cy="224.6" r="1.35" fill="#4290dc"/>
<circle cx="79.3" cy="224" r="1.35" fill="#4290dc"/>
<circle cx="74.4" cy="229.1" r="1.35" fill="#4290dc"/>
<circle cx="70.8" cy="232.7" r="1.35" fill="#4290dc"/>
<circle cx="72.9" cy="233.7" r="1.35" fill="#4290dc"/>
<circle cx="74.9" cy="234.7" r="1.35" fill="#4290dc"/>
<circle cx="77.4" cy="233.2" r="1.35" fill="#4290dc"/>
<circle cx="72.2" cy="237" r="1.35" fill="#4290dc"/>
<circle cx="76.6" cy="239.3" r="1.35" fill="#4290dc"/>
<circle cx="70.8" cy="243.8" r="1.35" fill="#4290dc"/>
<circle cx="77.9" cy="244.1" r="1.35" fill="#4290dc"/>
<circle cx="75.4" cy="243.8" r="1.35" fill="#4290dc"/>
<circle cx="74.2" cy="257.3" r="1.35" fill="#4290dc"/>
<circle cx="77.2" cy="247.8" r="1.35" fill="#4290dc"/>
<circle cx="76.38" cy="249.78" r="1.35" fill="#4290dc"/>
<circle cx="74.4" cy="250.6" r="1.35" fill="#4290dc"/>
<circle cx="72.42" cy="249.78" r="1.35" fill="#4290dc"/>
<circle cx="71.6" cy="247.8" r="1.35" fill="#4290dc"/>
<circle cx="72.42" cy="245.82" r="1.35" fill="#4290dc"/>
<circle cx="74.4" cy="245" r="1.35" fill="#4290dc"/>
<circle cx="76.38" cy="245.82" r="1.35" fill="#4290dc"/>
<circle cx="90.1" cy="196.9" r="1.35" fill="#4290dc"/>
<circle cx="90.4" cy="202" r="1.35" fill="#4290dc"/>
<circle cx="90.1" cy="207.8" r="1.35" fill="#4290dc"/>
<circle cx="92.2" cy="209.5" r="1.35" fill="#4290dc"/>
<circle cx="88.1" cy="212.4" r="1.35" fill="#4290dc"/>
<circle cx="88.1" cy="217.9" r="1.35" fill="#4290dc"/>
<circle cx="91.2" cy="221.5" r="1.35" fill="#4290dc"/>
<circle cx="92.2" cy="222.5" r="1.35" fill="#4290dc"/>
<circle cx="94.7" cy="223.5" r="1.35" fill="#4290dc"/>
<circle cx="86.1" cy="224" r="1.35" fill="#4290dc"/>
<circle cx="91.5" cy="224" r="1.35" fill="#4290dc"/>
<circle cx="89.1" cy="226.8" r="1.35" fill="#4290dc"/>
<circle cx="86.8" cy="228.8" r="1.35" fill="#4290dc"/>
<circle cx="93.7" cy="228.1" r="1.35" fill="#4290dc"/>
<circle cx="90.4" cy="231.9" r="1.35" fill="#4290dc"/>
<circle cx="86.6" cy="236.2" r="1.35" fill="#4290dc"/>
<circle cx="88.6" cy="237.8" r="1.35" fill="#4290dc"/>
<circle cx="90.7" cy="238.6" r="1.35" fill="#4290dc"/>
<circle cx="92.7" cy="237.8" r="1.35" fill="#4290dc"/>
<circle cx="93.9" cy="237" r="1.35" fill="#4290dc"/>
<circle cx="86.8" cy="243.8" r="1.35" fill="#4290dc"/>
<circle cx="90.1" cy="245.8" r="1.35" fill="#4290dc"/>
<circle cx="92.2" cy="247.3" r="1.35" fill="#4290dc"/>
<circle cx="93.7" cy="244" r="1.35" fill="#4290dc"/>
<circle cx="88.1" cy="249.6" r="1.35" fill="#4290dc"/>
<circle cx="104.3" cy="204" r="1.35" fill="#4290dc"/>
<circle cx="108.4" cy="204.7" r="1.35" fill="#4290dc"/>
<circle cx="106.2" cy="210.6" r="1.35" fill="#4290dc"/>
<circle cx="102.3" cy="216.4" r="1.35" fill="#4290dc"/>
<circle cx="105" cy="217.6" r="1.35" fill="#4290dc"/>
<circle cx="110.2" cy="217.2" r="1.35" fill="#4290dc"/>
<circle cx="107.7" cy="220" r="1.35" fill="#4290dc"/>
<circle cx="102.9" cy="229.4" r="1.35" fill="#4290dc"/>
<circle cx="106.4" cy="231.7" r="1.35" fill="#4290dc"/>
<circle cx="111.5" cy="230.9" r="1.35" fill="#4290dc"/>
<circle cx="109.7" cy="233.9" r="1.35" fill="#4290dc"/>
<circle cx="102.9" cy="234.9" r="1.35" fill="#4290dc"/>
<circle cx="106.4" cy="236.5" r="1.35" fill="#4290dc"/>
<circle cx="104.3" cy="242.4" r="1.35" fill="#4290dc"/>
<circle cx="108.2" cy="241.7" r="1.35" fill="#4290dc"/>
<circle cx="102.9" cy="256" r="1.35" fill="#4290dc"/>
<circle cx="106.4" cy="257.5" r="1.35" fill="#4290dc"/>
<circle cx="110" cy="254.9" r="1.35" fill="#4290dc"/>
<circle cx="106.4" cy="266.1" r="1.35" fill="#4290dc"/>
<circle cx="109" cy="250" r="1.35" fill="#4290dc"/>
<circle cx="108.18" cy="251.98" r="1.35" fill="#4290dc"/>
<circle cx="106.2" cy="252.8" r="1.35" fill="#4290dc"/>
<circle cx="104.22" cy="251.98" r="1.35" fill="#4290dc"/>
<circle cx="103.4" cy="250" r="1.35" fill="#4290dc"/>
<circle cx="104.22" cy="248.02" r="1.35" fill="#4290dc"/>
<circle cx="106.2" cy="247.2" r="1.35" fill="#4290dc"/>
<circle cx="108.18" cy="248.02" r="1.35" fill="#4290dc"/>
<circle cx="120.2" cy="219.7" r="1.35" fill="#4290dc"/>
<circle cx="124.3" cy="223.3" r="1.35" fill="#4290dc"/>
<circle cx="124.3" cy="232.5" r="1.35" fill="#4290dc"/>
<circle cx="120.2" cy="234.9" r="1.35" fill="#4290dc"/>
<circle cx="119.9" cy="246.8" r="1.35" fill="#4290dc"/>
<circle cx="121.9" cy="247.8" r="1.35" fill="#4290dc"/>
<circle cx="124" cy="246.8" r="1.35" fill="#4290dc"/>
<circle cx="118.6" cy="250.4" r="1.35" fill="#4290dc"/>
<circle cx="120.9" cy="249.3" r="1.35" fill="#4290dc"/>
<circle cx="124" cy="249.8" r="1.35" fill="#4290dc"/>
<circle cx="126" cy="251.9" r="1.35" fill="#4290dc"/>
<circle cx="120.4" cy="252.4" r="1.35" fill="#4290dc"/>
<circle cx="122.4" cy="253.9" r="1.35" fill="#4290dc"/>
<circle cx="124.5" cy="253.9" r="1.35" fill="#4290dc"/>
<circle cx="122.2" cy="259.7" r="1.35" fill="#4290dc"/>
<circle cx="118.4" cy="262" r="1.35" fill="#4290dc"/>
<circle cx="120.9" cy="264.6" r="1.35" fill="#4290dc"/>
<circle cx="124" cy="262.6" r="1.35" fill="#4290dc"/>
<circle cx="126.3" cy="260.7" r="1.35" fill="#4290dc"/>
<circle cx="140.2" cy="222.3" r="1.35" fill="#4290dc"/>
<circle cx="136.2" cy="224.8" r="1.35" fill="#4290dc"/>
<circle cx="138.2" cy="229.1" r="1.35" fill="#4290dc"/>
<circle cx="134.8" cy="235.5" r="1.35" fill="#4290dc"/>
<circle cx="141.5" cy="235.7" r="1.35" fill="#4290dc"/>
<circle cx="138.2" cy="239.3" r="1.35" fill="#4290dc"/>
<circle cx="136.2" cy="244.8" r="1.35" fill="#4290dc"/>
<circle cx="140.5" cy="245.5" r="1.35" fill="#4290dc"/>
<circle cx="134.1" cy="250.6" r="1.35" fill="#4290dc"/>
<circle cx="138.2" cy="249.8" r="1.35" fill="#4290dc"/>
<circle cx="136.9" cy="252.9" r="1.35" fill="#4290dc"/>
<circle cx="139.7" cy="253.9" r="1.35" fill="#4290dc"/>
<circle cx="142.3" cy="251.2" r="1.35" fill="#4290dc"/>
<circle cx="142.3" cy="255.6" r="1.35" fill="#4290dc"/>
<circle cx="134.1" cy="258" r="1.35" fill="#4290dc"/>
<circle cx="136.9" cy="259" r="1.35" fill="#4290dc"/>
<circle cx="139.7" cy="259" r="1.35" fill="#4290dc"/>
<circle cx="134.1" cy="261.7" r="1.35" fill="#4290dc"/>
<circle cx="136.9" cy="264.6" r="1.35" fill="#4290dc"/>
<circle cx="139.7" cy="265.6" r="1.35" fill="#4290dc"/>
<circle cx="142.3" cy="264.1" r="1.35" fill="#4290dc"/>
<circle cx="140.2" cy="267.1" r="1.35" fill="#4290dc"/>
<circle cx="136.2" cy="270.7" r="1.35" fill="#4290dc"/>
<circle cx="154.2" cy="217.1" r="1.35" fill="#4290dc"/>
<circle cx="154" cy="230.3" r="1.35" fill="#4290dc"/>
<circle cx="150.2" cy="234.9" r="1.35" fill="#4290dc"/>
<circle cx="158.1" cy="235.9" r="1.35" fill="#4290dc"/>
<circle cx="152.7" cy="237.4" r="1.35" fill="#4290dc"/>
<circle cx="155.8" cy="237.6" r="1.35" fill="#4290dc"/>
<circle cx="154" cy="242.3" r="1.35" fill="#4290dc"/>
<circle cx="157.5" cy="246.6" r="1.35" fill="#4290dc"/>
<circle cx="151" cy="247.6" r="1.35" fill="#4290dc"/>
<circle cx="154.4" cy="249.1" r="1.35" fill="#4290dc"/>
<circle cx="156.3" cy="252.2" r="1.35" fill="#4290dc"/>
<circle cx="152.4" cy="252.9" r="1.35" fill="#4290dc"/>
<circle cx="154.2" cy="258.3" r="1.35" fill="#4290dc"/>
<circle cx="150.1" cy="262.4" r="1.35" fill="#4290dc"/>
<circle cx="153" cy="263.8" r="1.35" fill="#4290dc"/>
<circle cx="156.2" cy="261.9" r="1.35" fill="#4290dc"/>
<circle cx="158.5" cy="260.9" r="1.35" fill="#4290dc"/>
<circle cx="168.3" cy="234.6" r="1.35" fill="#4290dc"/>
<circle cx="172.3" cy="235.9" r="1.35" fill="#4290dc"/>
<circle cx="166.9" cy="240.3" r="1.35" fill="#4290dc"/>
<circle cx="173.5" cy="240.7" r="1.35" fill="#4290dc"/>
<circle cx="170.3" cy="243.5" r="1.35" fill="#4290dc"/>
<circle cx="173.5" cy="244.8" r="1.35" fill="#4290dc"/>
<circle cx="166.6" cy="246.8" r="1.35" fill="#4290dc"/>
<circle cx="169.5" cy="249.1" r="1.35" fill="#4290dc"/>
<circle cx="171.5" cy="250.7" r="1.35" fill="#4290dc"/>
<circle cx="173.5" cy="249.1" r="1.35" fill="#4290dc"/>
<circle cx="166.2" cy="250.4" r="1.35" fill="#4290dc"/>
<circle cx="169" cy="253.2" r="1.35" fill="#4290dc"/>
<circle cx="173.5" cy="255.5" r="1.35" fill="#4290dc"/>
<circle cx="166.9" cy="258.3" r="1.35" fill="#4290dc"/>
<circle cx="170.3" cy="258.8" r="1.35" fill="#4290dc"/>
<circle cx="166" cy="262.8" r="1.35" fill="#4290dc"/>
<circle cx="168.9" cy="264.5" r="1.35" fill="#4290dc"/>
<circle cx="172" cy="262.8" r="1.35" fill="#4290dc"/>
<circle cx="174.3" cy="261.9" r="1.35" fill="#4290dc"/>
<circle cx="186.2" cy="234.4" r="1.35" fill="#4290dc"/>
<circle cx="185.9" cy="239.7" r="1.35" fill="#4290dc"/>
<circle cx="182.7" cy="248.6" r="1.35" fill="#4290dc"/>
<circle cx="184.7" cy="250.1" r="1.35" fill="#4290dc"/>
<circle cx="187.3" cy="248.6" r="1.35" fill="#4290dc"/>
<circle cx="183.9" cy="253.5" r="1.35" fill="#4290dc"/>
<circle cx="188.3" cy="253.9" r="1.35" fill="#4290dc"/>
<circle cx="184" cy="262.4" r="1.35" fill="#4290dc"/>
<circle cx="188.3" cy="262.4" r="1.35" fill="#4290dc"/>
<circle cx="202" cy="237.5" r="1.35" fill="#4290dc"/>
<circle cx="202" cy="255.6" r="1.35" fill="#4290dc"/>
<circle cx="199.2" cy="261.6" r="1.35" fill="#4290dc"/>
<circle cx="200.6" cy="263.1" r="1.35" fill="#4290dc"/>
<circle cx="202.3" cy="262.4" r="1.35" fill="#4290dc"/>
<circle cx="204.2" cy="261.6" r="1.35" fill="#4290dc"/>
<circle cx="204.9" cy="262.8" r="1.35" fill="#4290dc"/>
<circle cx="201.8" cy="260.9" r="1.35" fill="#4290dc"/>
<line x1="52.8" y1="244.3" x2="63.8" y2="244.3" stroke="#111" stroke-width="1.3"/>
<line x1="68.75" y1="226.8" x2="79.75" y2="226.8" stroke="#111" stroke-width="1.3"/>
<line x1="84.7" y1="219.7" x2="95.7" y2="219.7" stroke="#111" stroke-width="1.3"/>
<line x1="100.65" y1="225.4" x2="111.65" y2="225.4" stroke="#111" stroke-width="1.3"/>
<line x1="116.6" y1="241.4" x2="127.6" y2="241.4" stroke="#111" stroke-width="1.3"/>
<line x1="132.55" y1="242.5" x2="143.55" y2="242.5" stroke="#111" stroke-width="1.3"/>
<line x1="148.5" y1="239.5" x2="159.5" y2="239.5" stroke="#111" stroke-width="1.3"/>
<line x1="164.45" y1="247.2" x2="175.45" y2="247.2" stroke="#111" stroke-width="1.3"/>
<line x1="180.4" y1="246.9" x2="191.4" y2="246.9" stroke="#111" stroke-width="1.3"/>
<line x1="196.35" y1="254.4" x2="207.35" y2="254.4" stroke="#111" stroke-width="1.3"/>
<line x1="268.9" y1="179.4" x2="268.9" y2="273.8" stroke="#333" stroke-width="1.6"/>
<line x1="265.9" y1="182.4" x2="268.9" y2="182.4" stroke="#333" stroke-width="1.2"/>
<text x="263" y="184.8" font-size="6.8" text-anchor="end" fill="#383838">80</text>
<line x1="265.9" y1="205.2" x2="268.9" y2="205.2" stroke="#333" stroke-width="1.2"/>
<text x="263" y="207.6" font-size="6.8" text-anchor="end" fill="#383838">60</text>
<line x1="265.9" y1="227.9" x2="268.9" y2="227.9" stroke="#333" stroke-width="1.2"/>
<text x="263" y="230.3" font-size="6.8" text-anchor="end" fill="#383838">40</text>
<line x1="265.9" y1="250.6" x2="268.9" y2="250.6" stroke="#333" stroke-width="1.2"/>
<text x="263" y="253" font-size="6.8" text-anchor="end" fill="#383838">20</text>
<line x1="265.9" y1="273.3" x2="268.9" y2="273.3" stroke="#333" stroke-width="1.2"/>
<text x="263" y="275.7" font-size="6.8" text-anchor="end" fill="#383838">0</text>
<text x="249.8" y="226.45" font-size="9.2" text-anchor="middle" fill="#333" textLength="95.9" lengthAdjust="spacingAndGlyphs" transform="rotate(-90 249.8 226.45)" stroke="#333" stroke-width="0.15">CD19<tspan font-size="5.5" dy="-3.2">+</tspan><tspan dy="3.2"> cells in lymphocytes(%)</tspan></text>
<text x="352.3" y="312.1" font-size="9.7" text-anchor="middle" fill="#333" textLength="57.3" lengthAdjust="spacingAndGlyphs" stroke="#333" stroke-width="0.15">Days after infusion</text>
<line x1="270.5" y1="270.1" x2="432" y2="270.1" stroke="#d0103f" stroke-width="1.1" stroke-dasharray="0.8 0.62"/>
<polyline points="284.5,238.7 300.1,262.4 315.7,269.4 331.3,272.8 346.9,272.8 362.5,263.5 378.1,261.2 393.7,255.8" fill="none" stroke="#4848b0" stroke-width="0.85"/>
<circle cx="284.5" cy="238.7" r="0.9" fill="#4848b0"/>
<circle cx="300.1" cy="262.4" r="0.9" fill="#4848b0"/>
<circle cx="315.7" cy="269.4" r="0.9" fill="#4848b0"/>
<circle cx="331.3" cy="272.8" r="0.9" fill="#4848b0"/>
<circle cx="346.9" cy="272.8" r="0.9" fill="#4848b0"/>
<circle cx="362.5" cy="263.5" r="0.9" fill="#4848b0"/>
<circle cx="378.1" cy="261.2" r="0.9" fill="#4848b0"/>
<circle cx="393.7" cy="255.8" r="0.9" fill="#4848b0"/>
<polyline points="331.3,273 346.9,272.6 362.5,268 378.1,260.6 393.7,192.6 409.3,188.8" fill="none" stroke="#5252c4" stroke-width="0.85"/>
<circle cx="331.3" cy="273" r="0.9" fill="#5252c4"/>
<circle cx="346.9" cy="272.6" r="0.9" fill="#5252c4"/>
<circle cx="362.5" cy="268" r="0.9" fill="#5252c4"/>
<circle cx="378.1" cy="260.6" r="0.9" fill="#5252c4"/>
<circle cx="393.7" cy="192.6" r="0.9" fill="#5252c4"/>
<circle cx="409.3" cy="188.8" r="0.9" fill="#5252c4"/>
<polyline points="331.3,272.7 346.9,260.2 362.5,248.1 378.1,238.1 393.7,233.7 409.3,235 424.9,235.6" fill="none" stroke="#a8803c" stroke-width="0.85"/>
<circle cx="331.3" cy="272.7" r="0.9" fill="#a8803c"/>
<circle cx="346.9" cy="260.2" r="0.9" fill="#a8803c"/>
<circle cx="362.5" cy="248.1" r="0.9" fill="#a8803c"/>
<circle cx="378.1" cy="238.1" r="0.9" fill="#a8803c"/>
<circle cx="393.7" cy="233.7" r="0.9" fill="#a8803c"/>
<circle cx="409.3" cy="235" r="0.9" fill="#a8803c"/>
<circle cx="424.9" cy="235.6" r="0.9" fill="#a8803c"/>
<polyline points="346.9,272.7 362.5,243.2 378.1,242.3 393.7,238.5 409.3,235.3" fill="none" stroke="#8c48b8" stroke-width="0.85"/>
<circle cx="346.9" cy="272.7" r="0.9" fill="#8c48b8"/>
<circle cx="362.5" cy="243.2" r="0.9" fill="#8c48b8"/>
<circle cx="378.1" cy="242.3" r="0.9" fill="#8c48b8"/>
<circle cx="393.7" cy="238.5" r="0.9" fill="#8c48b8"/>
<circle cx="409.3" cy="235.3" r="0.9" fill="#8c48b8"/>
<polyline points="284.5,270.8 300.1,272.5 315.7,273 331.3,272.7 346.9,265.5 362.5,258.7 378.1,242.9 393.7,238.8 409.3,236.9" fill="none" stroke="#222222" stroke-width="0.85"/>
<circle cx="284.5" cy="270.8" r="0.9" fill="#222222"/>
<circle cx="300.1" cy="272.5" r="0.9" fill="#222222"/>
<circle cx="315.7" cy="273" r="0.9" fill="#222222"/>
<circle cx="331.3" cy="272.7" r="0.9" fill="#222222"/>
<circle cx="346.9" cy="265.5" r="0.9" fill="#222222"/>
<circle cx="362.5" cy="258.7" r="0.9" fill="#222222"/>
<circle cx="378.1" cy="242.9" r="0.9" fill="#222222"/>
<circle cx="393.7" cy="238.8" r="0.9" fill="#222222"/>
<circle cx="409.3" cy="236.9" r="0.9" fill="#222222"/>
<polyline points="331.3,272.7 346.9,264.2 362.5,255.8 378.1,251.5 393.7,247 409.3,249 424.9,253.8" fill="none" stroke="#7cc048" stroke-width="0.85"/>
<circle cx="331.3" cy="272.7" r="0.9" fill="#7cc048"/>
<circle cx="346.9" cy="264.2" r="0.9" fill="#7cc048"/>
<circle cx="362.5" cy="255.8" r="0.9" fill="#7cc048"/>
<circle cx="378.1" cy="251.5" r="0.9" fill="#7cc048"/>
<circle cx="393.7" cy="247" r="0.9" fill="#7cc048"/>
<circle cx="409.3" cy="249" r="0.9" fill="#7cc048"/>
<circle cx="424.9" cy="253.8" r="0.9" fill="#7cc048"/>
<polyline points="346.9,273 362.5,270.5 378.1,265 393.7,258 409.3,248.6 424.9,250.7" fill="none" stroke="#a08c50" stroke-width="0.85"/>
<circle cx="346.9" cy="273" r="0.9" fill="#a08c50"/>
<circle cx="362.5" cy="270.5" r="0.9" fill="#a08c50"/>
<circle cx="378.1" cy="265" r="0.9" fill="#a08c50"/>
<circle cx="393.7" cy="258" r="0.9" fill="#a08c50"/>
<circle cx="409.3" cy="248.6" r="0.9" fill="#a08c50"/>
<circle cx="424.9" cy="250.7" r="0.9" fill="#a08c50"/>
<polyline points="284.5,268.5 300.1,268.7 315.7,270.2 331.3,272.3 346.9,272.8 362.5,273 378.1,273 393.7,272.7 424.9,222" fill="none" stroke="#f2e436" stroke-width="0.85"/>
<circle cx="284.5" cy="268.5" r="0.9" fill="#f2e436"/>
<circle cx="300.1" cy="268.7" r="0.9" fill="#f2e436"/>
<circle cx="315.7" cy="270.2" r="0.9" fill="#f2e436"/>
<circle cx="331.3" cy="272.3" r="0.9" fill="#f2e436"/>
<circle cx="346.9" cy="272.8" r="0.9" fill="#f2e436"/>
<circle cx="362.5" cy="273" r="0.9" fill="#f2e436"/>
<circle cx="378.1" cy="273" r="0.9" fill="#f2e436"/>
<circle cx="393.7" cy="272.7" r="0.9" fill="#f2e436"/>
<circle cx="424.9" cy="222" r="0.9" fill="#f2e436"/>
<polyline points="284.5,258.9 300.1,270.1 315.7,272 331.3,273 346.9,272.5 362.5,270 378.1,262 393.7,252.8 409.3,252.8" fill="none" stroke="#f0902c" stroke-width="0.85"/>
<circle cx="284.5" cy="258.9" r="0.9" fill="#f0902c"/>
<circle cx="300.1" cy="270.1" r="0.9" fill="#f0902c"/>
<circle cx="315.7" cy="272" r="0.9" fill="#f0902c"/>
<circle cx="331.3" cy="273" r="0.9" fill="#f0902c"/>
<circle cx="346.9" cy="272.5" r="0.9" fill="#f0902c"/>
<circle cx="362.5" cy="270" r="0.9" fill="#f0902c"/>
<circle cx="378.1" cy="262" r="0.9" fill="#f0902c"/>
<circle cx="393.7" cy="252.8" r="0.9" fill="#f0902c"/>
<circle cx="409.3" cy="252.8" r="0.9" fill="#f0902c"/>
<polyline points="284.5,263.4 300.1,270 315.7,272 331.3,273" fill="none" stroke="#7a3aa0" stroke-width="0.85"/>
<circle cx="284.5" cy="263.4" r="0.9" fill="#7a3aa0"/>
<circle cx="300.1" cy="270" r="0.9" fill="#7a3aa0"/>
<circle cx="315.7" cy="272" r="0.9" fill="#7a3aa0"/>
<circle cx="331.3" cy="273" r="0.9" fill="#7a3aa0"/>
<polyline points="362.5,272 378.1,268 393.7,264 409.3,263.5 424.9,264.4" fill="none" stroke="#c058c0" stroke-width="0.85"/>
<circle cx="362.5" cy="272" r="0.9" fill="#c058c0"/>
<circle cx="378.1" cy="268" r="0.9" fill="#c058c0"/>
<circle cx="393.7" cy="264" r="0.9" fill="#c058c0"/>
<circle cx="409.3" cy="263.5" r="0.9" fill="#c058c0"/>
<circle cx="424.9" cy="264.4" r="0.9" fill="#c058c0"/>
<polyline points="393.7,272.7 409.3,259.2 424.9,264.4" fill="none" stroke="#84c898" stroke-width="0.85"/>
<circle cx="393.7" cy="272.7" r="0.9" fill="#84c898"/>
<circle cx="409.3" cy="259.2" r="0.9" fill="#84c898"/>
<circle cx="424.9" cy="264.4" r="0.9" fill="#84c898"/>
<polyline points="393.7,272.5 409.3,268 424.9,257.3" fill="none" stroke="#a8a8a8" stroke-width="0.85"/>
<circle cx="393.7" cy="272.5" r="0.9" fill="#a8a8a8"/>
<circle cx="409.3" cy="268" r="0.9" fill="#a8a8a8"/>
<circle cx="424.9" cy="257.3" r="0.9" fill="#a8a8a8"/>
<polyline points="378.1,272.5 393.7,268.8" fill="none" stroke="#b02020" stroke-width="0.85"/>
<circle cx="378.1" cy="272.5" r="0.9" fill="#b02020"/>
<circle cx="393.7" cy="268.8" r="0.9" fill="#b02020"/>
<polyline points="393.7,272.8 409.3,267" fill="none" stroke="#d06020" stroke-width="0.85"/>
<circle cx="393.7" cy="272.8" r="0.9" fill="#d06020"/>
<circle cx="409.3" cy="267" r="0.9" fill="#d06020"/>
<polyline points="284.5,268.3 300.1,271 315.7,272.5 331.3,273" fill="none" stroke="#8cb4ec" stroke-width="0.85"/>
<circle cx="284.5" cy="268.3" r="0.9" fill="#8cb4ec"/>
<circle cx="300.1" cy="271" r="0.9" fill="#8cb4ec"/>
<circle cx="315.7" cy="272.5" r="0.9" fill="#8cb4ec"/>
<circle cx="331.3" cy="273" r="0.9" fill="#8cb4ec"/>
<polyline points="346.9,272.8 362.5,270 378.1,264 393.7,258" fill="none" stroke="#508050" stroke-width="0.85"/>
<circle cx="346.9" cy="272.8" r="0.9" fill="#508050"/>
<circle cx="362.5" cy="270" r="0.9" fill="#508050"/>
<circle cx="378.1" cy="264" r="0.9" fill="#508050"/>
<circle cx="393.7" cy="258" r="0.9" fill="#508050"/>
<polyline points="362.5,272.8 378.1,271 393.7,266 409.3,262" fill="none" stroke="#e080a0" stroke-width="0.85"/>
<circle cx="362.5" cy="272.8" r="0.9" fill="#e080a0"/>
<circle cx="378.1" cy="271" r="0.9" fill="#e080a0"/>
<circle cx="393.7" cy="266" r="0.9" fill="#e080a0"/>
<circle cx="409.3" cy="262" r="0.9" fill="#e080a0"/>
<polyline points="362.5,273 378.1,272 393.7,270 409.3,266" fill="none" stroke="#a02060" stroke-width="0.85"/>
<circle cx="362.5" cy="273" r="0.9" fill="#a02060"/>
<circle cx="378.1" cy="272" r="0.9" fill="#a02060"/>
<circle cx="393.7" cy="270" r="0.9" fill="#a02060"/>
<circle cx="409.3" cy="266" r="0.9" fill="#a02060"/>
<polyline points="362.5,272 378.1,268 393.7,263" fill="none" stroke="#a0a020" stroke-width="0.85"/>
<circle cx="362.5" cy="272" r="0.9" fill="#a0a020"/>
<circle cx="378.1" cy="268" r="0.9" fill="#a0a020"/>
<circle cx="393.7" cy="263" r="0.9" fill="#a0a020"/>
<polyline points="346.9,273 362.5,271 378.1,266 393.7,262" fill="none" stroke="#606060" stroke-width="0.85"/>
<circle cx="346.9" cy="273" r="0.9" fill="#606060"/>
<circle cx="362.5" cy="271" r="0.9" fill="#606060"/>
<circle cx="378.1" cy="266" r="0.9" fill="#606060"/>
<circle cx="393.7" cy="262" r="0.9" fill="#606060"/>
<polyline points="284.5,272 300.1,272.5 315.7,273 331.3,273" fill="none" stroke="#402080" stroke-width="0.85"/>
<circle cx="284.5" cy="272" r="0.9" fill="#402080"/>
<circle cx="300.1" cy="272.5" r="0.9" fill="#402080"/>
<circle cx="315.7" cy="273" r="0.9" fill="#402080"/>
<circle cx="331.3" cy="273" r="0.9" fill="#402080"/>
<line x1="268" y1="273.5" x2="435" y2="273.5" stroke="#111" stroke-width="1.3"/>
<line x1="268.9" y1="273.5" x2="268.9" y2="276.5" stroke="#111" stroke-width="1.1"/>
<line x1="284.5" y1="273.5" x2="284.5" y2="276.5" stroke="#111" stroke-width="1.1"/>
<text x="288.3" y="283.3" font-size="7.2" text-anchor="end" fill="#333" textLength="9.36" lengthAdjust="spacingAndGlyphs" transform="rotate(-45 288.3 283.3)" stroke="#333" stroke-width="0.18">1-5</text>
<line x1="300.1" y1="273.5" x2="300.1" y2="276.5" stroke="#111" stroke-width="1.1"/>
<text x="303.9" y="283.3" font-size="7.2" text-anchor="end" fill="#333" textLength="12.96" lengthAdjust="spacingAndGlyphs" transform="rotate(-45 303.9 283.3)" stroke="#333" stroke-width="0.18">6-10</text>
<line x1="315.7" y1="273.5" x2="315.7" y2="276.5" stroke="#111" stroke-width="1.1"/>
<text x="319.5" y="283.3" font-size="7.2" text-anchor="end" fill="#333" textLength="16.57" lengthAdjust="spacingAndGlyphs" transform="rotate(-45 319.5 283.3)" stroke="#333" stroke-width="0.18">11-20</text>
<line x1="331.3" y1="273.5" x2="331.3" y2="276.5" stroke="#111" stroke-width="1.1"/>
<text x="335.1" y="283.3" font-size="7.2" text-anchor="end" fill="#333" textLength="16.57" lengthAdjust="spacingAndGlyphs" transform="rotate(-45 335.1 283.3)" stroke="#333" stroke-width="0.18">21-40</text>
<line x1="346.9" y1="273.5" x2="346.9" y2="276.5" stroke="#111" stroke-width="1.1"/>
<text x="350.7" y="283.3" font-size="7.2" text-anchor="end" fill="#333" textLength="16.57" lengthAdjust="spacingAndGlyphs" transform="rotate(-45 350.7 283.3)" stroke="#333" stroke-width="0.18">41-60</text>
<line x1="362.5" y1="273.5" x2="362.5" y2="276.5" stroke="#111" stroke-width="1.1"/>
<text x="366.3" y="283.3" font-size="7.2" text-anchor="end" fill="#333" textLength="20.17" lengthAdjust="spacingAndGlyphs" transform="rotate(-45 366.3 283.3)" stroke="#333" stroke-width="0.18">61-100</text>
<line x1="378.1" y1="273.5" x2="378.1" y2="276.5" stroke="#111" stroke-width="1.1"/>
<text x="381.9" y="283.3" font-size="7.2" text-anchor="end" fill="#333" textLength="23.78" lengthAdjust="spacingAndGlyphs" transform="rotate(-45 381.9 283.3)" stroke="#333" stroke-width="0.18">101-200</text>
<line x1="393.7" y1="273.5" x2="393.7" y2="276.5" stroke="#111" stroke-width="1.1"/>
<text x="397.5" y="283.3" font-size="7.2" text-anchor="end" fill="#333" textLength="23.78" lengthAdjust="spacingAndGlyphs" transform="rotate(-45 397.5 283.3)" stroke="#333" stroke-width="0.18">201-300</text>
<line x1="409.3" y1="273.5" x2="409.3" y2="276.5" stroke="#111" stroke-width="1.1"/>
<text x="413.1" y="283.3" font-size="7.2" text-anchor="end" fill="#333" textLength="23.78" lengthAdjust="spacingAndGlyphs" transform="rotate(-45 413.1 283.3)" stroke="#333" stroke-width="0.18">301-400</text>
<line x1="424.9" y1="273.5" x2="424.9" y2="276.5" stroke="#111" stroke-width="1.1"/>
<text x="428.7" y="283.3" font-size="7.2" text-anchor="end" fill="#333" textLength="14.59" lengthAdjust="spacingAndGlyphs" transform="rotate(-45 428.7 283.3)" stroke="#333" stroke-width="0.18">&gt;400</text>
<line x1="437.8" y1="197.5" x2="447.3" y2="197.5" stroke="#b0b0b0" stroke-width="1"/>
<circle cx="442.55" cy="197.5" r="1.0" fill="#777"/>
<text x="453" y="197" font-size="7" text-anchor="start" fill="#333" textLength="3" lengthAdjust="spacingAndGlyphs">1</text>
<line x1="437.8" y1="203.75" x2="447.3" y2="203.75" stroke="#b4a474" stroke-width="1"/>
<circle cx="442.55" cy="203.75" r="1.0" fill="#6a6030"/>
<text x="453" y="206.25" font-size="7" text-anchor="start" fill="#333" textLength="3" lengthAdjust="spacingAndGlyphs">2</text>
<line x1="437.8" y1="213" x2="447.3" y2="213" stroke="#e87070" stroke-width="1"/>
<circle cx="442.55" cy="213" r="1.0" fill="#d04040"/>
<text x="453" y="215.5" font-size="7" text-anchor="start" fill="#333" textLength="3" lengthAdjust="spacingAndGlyphs">3</text>
<line x1="437.8" y1="222.25" x2="447.3" y2="222.25" stroke="#f0a040" stroke-width="1"/>
<circle cx="442.55" cy="222.25" r="1.0" fill="#e08020"/>
<text x="453" y="224.75" font-size="7" text-anchor="start" fill="#333" textLength="3" lengthAdjust="spacingAndGlyphs">5</text>
<line x1="437.8" y1="231.5" x2="447.3" y2="231.5" stroke="#5a3a98" stroke-width="1"/>
<circle cx="442.55" cy="231.5" r="1.0" fill="#301060"/>
<text x="453" y="234" font-size="7" text-anchor="start" fill="#333" textLength="3" lengthAdjust="spacingAndGlyphs">6</text>
<line x1="437.8" y1="240.75" x2="447.3" y2="240.75" stroke="#f8ec50" stroke-width="1"/>
<circle cx="442.55" cy="240.75" r="1.0" fill="#f0e020"/>
<text x="453" y="243.25" font-size="7" text-anchor="start" fill="#333" textLength="3" lengthAdjust="spacingAndGlyphs">8</text>
<line x1="437.8" y1="250" x2="447.3" y2="250" stroke="#8cc860" stroke-width="1"/>
<circle cx="442.55" cy="250" r="1.0" fill="#60a030"/>
<text x="453" y="252.5" font-size="7" text-anchor="start" fill="#333" textLength="3" lengthAdjust="spacingAndGlyphs">9</text>
<line x1="437.8" y1="259.25" x2="447.3" y2="259.25" stroke="#222" stroke-width="1"/>
<circle cx="442.55" cy="259.25" r="1.0" fill="#000"/>
<text x="453" y="261.75" font-size="7" text-anchor="start" fill="#333" textLength="6" lengthAdjust="spacingAndGlyphs">10</text>
<line x1="464" y1="197.5" x2="473.6" y2="197.5" stroke="#98d0a8" stroke-width="1"/>
<circle cx="468.8" cy="197.5" r="1.0" fill="#50a060"/>
<text x="479.3" y="197" font-size="7" text-anchor="start" fill="#333" textLength="6" lengthAdjust="spacingAndGlyphs">11</text>
<line x1="464" y1="203.75" x2="473.6" y2="203.75" stroke="#a8c4f0" stroke-width="1"/>
<circle cx="468.8" cy="203.75" r="1.0" fill="#6890d8"/>
<text x="479.3" y="206.25" font-size="7" text-anchor="start" fill="#333" textLength="6" lengthAdjust="spacingAndGlyphs">12</text>
<line x1="464" y1="213" x2="473.6" y2="213" stroke="#5a5ab8" stroke-width="1"/>
<circle cx="468.8" cy="213" r="1.0" fill="#303098"/>
<text x="479.3" y="215.5" font-size="7" text-anchor="start" fill="#333" textLength="6" lengthAdjust="spacingAndGlyphs">13</text>
<line x1="464" y1="222.25" x2="473.6" y2="222.25" stroke="#9a5ac0" stroke-width="1"/>
<circle cx="468.8" cy="222.25" r="1.0" fill="#7030a0"/>
<text x="479.3" y="224.75" font-size="7" text-anchor="start" fill="#333" textLength="6" lengthAdjust="spacingAndGlyphs">14</text>
<line x1="464" y1="231.5" x2="473.6" y2="231.5" stroke="#c870c8" stroke-width="1"/>
<circle cx="468.8" cy="231.5" r="1.0" fill="#a03aa0"/>
<text x="479.3" y="234" font-size="7" text-anchor="start" fill="#333" textLength="6" lengthAdjust="spacingAndGlyphs">17</text>
<line x1="464" y1="240.75" x2="473.6" y2="240.75" stroke="#e890b0" stroke-width="1"/>
<circle cx="468.8" cy="240.75" r="1.0" fill="#d06090"/>
<text x="479.3" y="243.25" font-size="7" text-anchor="start" fill="#333" textLength="6" lengthAdjust="spacingAndGlyphs">19</text>
<line x1="464" y1="250" x2="473.6" y2="250" stroke="#606060" stroke-width="1"/>
<circle cx="468.8" cy="250" r="1.0" fill="#303030"/>
<text x="479.3" y="252.5" font-size="7" text-anchor="start" fill="#333" textLength="6" lengthAdjust="spacingAndGlyphs">20</text>
<line x1="490" y1="197.5" x2="499.5" y2="197.5" stroke="#c49a5c" stroke-width="1"/>
<circle cx="494.75" cy="197.5" r="1.0" fill="#7a5020"/>
<text x="506" y="197" font-size="7" text-anchor="start" fill="#333" textLength="6" lengthAdjust="spacingAndGlyphs">21</text>
<line x1="490" y1="203.75" x2="499.5" y2="203.75" stroke="#c04a88" stroke-width="1"/>
<circle cx="494.75" cy="203.75" r="1.0" fill="#900040"/>
<text x="506" y="206.25" font-size="7" text-anchor="start" fill="#333" textLength="6" lengthAdjust="spacingAndGlyphs">22</text>
<line x1="490" y1="213" x2="499.5" y2="213" stroke="#b83030" stroke-width="1"/>
<circle cx="494.75" cy="213" r="1.0" fill="#900000"/>
<text x="506" y="215.5" font-size="7" text-anchor="start" fill="#333" textLength="6" lengthAdjust="spacingAndGlyphs">23</text>
<line x1="490" y1="222.25" x2="499.5" y2="222.25" stroke="#d8702c" stroke-width="1"/>
<circle cx="494.75" cy="222.25" r="1.0" fill="#b05010"/>
<text x="506" y="224.75" font-size="7" text-anchor="start" fill="#333" textLength="6" lengthAdjust="spacingAndGlyphs">25</text>
<line x1="490" y1="231.5" x2="499.5" y2="231.5" stroke="#a8a830" stroke-width="1"/>
<circle cx="494.75" cy="231.5" r="1.0" fill="#707000"/>
<text x="506" y="234" font-size="7" text-anchor="start" fill="#333" textLength="6" lengthAdjust="spacingAndGlyphs">26</text>
<line x1="490" y1="240.75" x2="499.5" y2="240.75" stroke="#5a8a5a" stroke-width="1"/>
<circle cx="494.75" cy="240.75" r="1.0" fill="#306030"/>
<text x="506" y="243.25" font-size="7" text-anchor="start" fill="#333" textLength="6" lengthAdjust="spacingAndGlyphs">27</text>
<line x1="490" y1="250" x2="499.5" y2="250" stroke="#4848b8" stroke-width="1"/>
<circle cx="494.75" cy="250" r="1.0" fill="#202090"/>
<text x="506" y="252.5" font-size="7" text-anchor="start" fill="#333" textLength="6" lengthAdjust="spacingAndGlyphs">29</text>
<line x1="47.9" y1="353.2" x2="47.9" y2="444.6" stroke="#222" stroke-width="1.6"/>
<line x1="45" y1="356.5" x2="47.9" y2="356.5" stroke="#222" stroke-width="1.2"/>
<text x="42.2" y="360.4" font-size="6.8" text-anchor="end" fill="#383838">10<tspan font-size="4.1" dy="-2.7">5</tspan></text>
<line x1="46" y1="376.84" x2="47.9" y2="376.84" stroke="#222" stroke-width="0.9"/>
<line x1="46" y1="371.72" x2="47.9" y2="371.72" stroke="#222" stroke-width="0.9"/>
<line x1="46" y1="368.08" x2="47.9" y2="368.08" stroke="#222" stroke-width="0.9"/>
<line x1="46" y1="365.26" x2="47.9" y2="365.26" stroke="#222" stroke-width="0.9"/>
<line x1="46" y1="362.96" x2="47.9" y2="362.96" stroke="#222" stroke-width="0.9"/>
<line x1="46" y1="361.01" x2="47.9" y2="361.01" stroke="#222" stroke-width="0.9"/>
<line x1="46" y1="359.32" x2="47.9" y2="359.32" stroke="#222" stroke-width="0.9"/>
<line x1="46" y1="357.83" x2="47.9" y2="357.83" stroke="#222" stroke-width="0.9"/>
<line x1="45" y1="385.6" x2="47.9" y2="385.6" stroke="#222" stroke-width="1.2"/>
<text x="42.2" y="389.5" font-size="6.8" text-anchor="end" fill="#383838">10<tspan font-size="4.1" dy="-2.7">4</tspan></text>
<line x1="46" y1="405.94" x2="47.9" y2="405.94" stroke="#222" stroke-width="0.9"/>
<line x1="46" y1="400.82" x2="47.9" y2="400.82" stroke="#222" stroke-width="0.9"/>
<line x1="46" y1="397.18" x2="47.9" y2="397.18" stroke="#222" stroke-width="0.9"/>
<line x1="46" y1="394.36" x2="47.9" y2="394.36" stroke="#222" stroke-width="0.9"/>
<line x1="46" y1="392.06" x2="47.9" y2="392.06" stroke="#222" stroke-width="0.9"/>
<line x1="46" y1="390.11" x2="47.9" y2="390.11" stroke="#222" stroke-width="0.9"/>
<line x1="46" y1="388.42" x2="47.9" y2="388.42" stroke="#222" stroke-width="0.9"/>
<line x1="46" y1="386.93" x2="47.9" y2="386.93" stroke="#222" stroke-width="0.9"/>
<line x1="45" y1="414.7" x2="47.9" y2="414.7" stroke="#222" stroke-width="1.2"/>
<text x="42.2" y="418.6" font-size="6.8" text-anchor="end" fill="#383838">10<tspan font-size="4.1" dy="-2.7">3</tspan></text>
<line x1="46" y1="435.04" x2="47.9" y2="435.04" stroke="#222" stroke-width="0.9"/>
<line x1="46" y1="429.92" x2="47.9" y2="429.92" stroke="#222" stroke-width="0.9"/>
<line x1="46" y1="426.28" x2="47.9" y2="426.28" stroke="#222" stroke-width="0.9"/>
<line x1="46" y1="423.46" x2="47.9" y2="423.46" stroke="#222" stroke-width="0.9"/>
<line x1="46" y1="421.16" x2="47.9" y2="421.16" stroke="#222" stroke-width="0.9"/>
<line x1="46" y1="419.21" x2="47.9" y2="419.21" stroke="#222" stroke-width="0.9"/>
<line x1="46" y1="417.52" x2="47.9" y2="417.52" stroke="#222" stroke-width="0.9"/>
<line x1="46" y1="416.03" x2="47.9" y2="416.03" stroke="#222" stroke-width="0.9"/>
<line x1="45" y1="443.8" x2="47.9" y2="443.8" stroke="#222" stroke-width="1.2"/>
<text x="42.2" y="447.7" font-size="6.8" text-anchor="end" fill="#383838">10<tspan font-size="4.1" dy="-2.7">2</tspan></text>
<line x1="47.1" y1="444.2" x2="204.5" y2="444.2" stroke="#222" stroke-width="1.6"/>
<line x1="47.9" y1="444.2" x2="47.9" y2="447.2" stroke="#222" stroke-width="1.1"/>
<line x1="62.5" y1="444.2" x2="62.5" y2="447.2" stroke="#222" stroke-width="1.1"/>
<text x="66.3" y="454" font-size="7.2" text-anchor="end" fill="#333" textLength="9.36" lengthAdjust="spacingAndGlyphs" transform="rotate(-45 66.3 454)" stroke="#333" stroke-width="0.18">1-5</text>
<line x1="77.6" y1="444.2" x2="77.6" y2="447.2" stroke="#222" stroke-width="1.1"/>
<text x="81.4" y="454" font-size="7.2" text-anchor="end" fill="#333" textLength="12.96" lengthAdjust="spacingAndGlyphs" transform="rotate(-45 81.4 454)" stroke="#333" stroke-width="0.18">6-10</text>
<line x1="92.7" y1="444.2" x2="92.7" y2="447.2" stroke="#222" stroke-width="1.1"/>
<text x="96.5" y="454" font-size="7.2" text-anchor="end" fill="#333" textLength="16.57" lengthAdjust="spacingAndGlyphs" transform="rotate(-45 96.5 454)" stroke="#333" stroke-width="0.18">11-20</text>
<line x1="107.8" y1="444.2" x2="107.8" y2="447.2" stroke="#222" stroke-width="1.1"/>
<text x="111.6" y="454" font-size="7.2" text-anchor="end" fill="#333" textLength="16.57" lengthAdjust="spacingAndGlyphs" transform="rotate(-45 111.6 454)" stroke="#333" stroke-width="0.18">21-40</text>
<line x1="122.9" y1="444.2" x2="122.9" y2="447.2" stroke="#222" stroke-width="1.1"/>
<text x="126.7" y="454" font-size="7.2" text-anchor="end" fill="#333" textLength="16.57" lengthAdjust="spacingAndGlyphs" transform="rotate(-45 126.7 454)" stroke="#333" stroke-width="0.18">41-60</text>
<line x1="138" y1="444.2" x2="138" y2="447.2" stroke="#222" stroke-width="1.1"/>
<text x="141.8" y="454" font-size="7.2" text-anchor="end" fill="#333" textLength="20.17" lengthAdjust="spacingAndGlyphs" transform="rotate(-45 141.8 454)" stroke="#333" stroke-width="0.18">61-100</text>
<line x1="153.1" y1="444.2" x2="153.1" y2="447.2" stroke="#222" stroke-width="1.1"/>
<text x="156.9" y="454" font-size="7.2" text-anchor="end" fill="#333" textLength="23.78" lengthAdjust="spacingAndGlyphs" transform="rotate(-45 156.9 454)" stroke="#333" stroke-width="0.18">101-200</text>
<line x1="168.2" y1="444.2" x2="168.2" y2="447.2" stroke="#222" stroke-width="1.1"/>
<text x="172" y="454" font-size="7.2" text-anchor="end" fill="#333" textLength="23.78" lengthAdjust="spacingAndGlyphs" transform="rotate(-45 172 454)" stroke="#333" stroke-width="0.18">201-300</text>
<line x1="183.3" y1="444.2" x2="183.3" y2="447.2" stroke="#222" stroke-width="1.1"/>
<text x="187.1" y="454" font-size="7.2" text-anchor="end" fill="#333" textLength="23.78" lengthAdjust="spacingAndGlyphs" transform="rotate(-45 187.1 454)" stroke="#333" stroke-width="0.18">301-400</text>
<line x1="198.4" y1="444.2" x2="198.4" y2="447.2" stroke="#222" stroke-width="1.1"/>
<text x="202.2" y="454" font-size="7.2" text-anchor="end" fill="#333" textLength="14.59" lengthAdjust="spacingAndGlyphs" transform="rotate(-45 202.2 454)" stroke="#333" stroke-width="0.18">&gt;400</text>
<text x="25.8" y="398.65" font-size="9" text-anchor="middle" fill="#333" textLength="101.5" lengthAdjust="spacingAndGlyphs" transform="rotate(-90 25.8 398.65)" stroke="#333" stroke-width="0.15">Transgenes copies(no./ug gDNA)</text>
<text x="126.5" y="482.5" font-size="9.7" text-anchor="middle" fill="#333" textLength="57" lengthAdjust="spacingAndGlyphs" stroke="#333" stroke-width="0.15">Days after infusion</text>
<text x="126.6" y="349.4" font-size="10" text-anchor="middle" fill="#333" textLength="76.4" lengthAdjust="spacingAndGlyphs" stroke="#333" stroke-width="0.15">CR(N=20)/PR(N=2)</text>
<polyline points="62.5,398.4 77.6,375.2 92.7,372.6 107.8,374.6 122.9,384.2 138,392.3 153.1,400.9 168.2,406 183.3,404.8" fill="none" stroke="#a8123e" stroke-width="1.0"/>
<polyline points="62.5,406.8 77.6,376 92.7,367.5 107.8,381 122.9,390.2 138,395.2 153.1,401 168.2,406" fill="none" stroke="#a8123e" stroke-width="1.0"/>
<polyline points="62.5,413.5 77.6,393.6 92.7,379.3 107.8,387.1 122.9,389.7 138,406 153.1,409.6 168.2,411 183.3,410 198.4,408.1" fill="none" stroke="#a8123e" stroke-width="1.0"/>
<polyline points="62.5,409.6 77.6,398.8 92.7,383.2 107.8,380.6 122.9,393.6 138,415.4 153.1,387.2 168.2,416.8 183.3,417.5 198.4,425.9" fill="none" stroke="#a8123e" stroke-width="1.0"/>
<polyline points="62.5,400.6 77.6,393.6 92.7,389.7 107.8,401.4 122.9,406 138,410.3 153.1,417.5 168.2,420.4 183.3,419 198.4,432" fill="none" stroke="#a8123e" stroke-width="1.0"/>
<polyline points="62.5,402.3 77.6,398.8 92.7,391 107.8,403.4 122.9,402 138,400 153.1,406 168.2,414.6 183.3,424 198.4,433.4" fill="none" stroke="#a8123e" stroke-width="1.0"/>
<polyline points="62.5,418.6 77.6,403 92.7,394.3 107.8,401.4 122.9,410 138,420.4 153.1,422.6 168.2,423.3 183.3,433.1" fill="none" stroke="#a8123e" stroke-width="1.0"/>
<polyline points="62.5,420.2 77.6,405 92.7,394.3 107.8,411.9 122.9,417 138,422.6 153.1,432 168.2,429" fill="none" stroke="#a8123e" stroke-width="1.0"/>
<polyline points="62.5,422.5 77.6,415.1 92.7,397.5 107.8,403.4 122.9,419.7 138,429 153.1,433.7 168.2,434.1 183.3,433.1 198.4,433.4" fill="none" stroke="#a8123e" stroke-width="1.0"/>
<polyline points="62.5,424.7 77.6,417 92.7,397.5 107.8,411.9 122.9,422.3 138,434.8" fill="none" stroke="#a8123e" stroke-width="1.0"/>
<polyline points="62.5,427 77.6,419.7 92.7,402.1 107.8,422.3 122.9,423.5 138,440.6 153.1,422.6" fill="none" stroke="#a8123e" stroke-width="1.0"/>
<polyline points="62.5,429.2 77.6,417 92.7,407.3 107.8,426.8 122.9,431.4 138,434.8 153.1,433.7 168.2,434.1" fill="none" stroke="#a8123e" stroke-width="1.0"/>
<polyline points="62.5,432.6 77.6,427.5 92.7,416.4 107.8,436.6 122.9,437 138,437.5 153.1,433.7" fill="none" stroke="#a8123e" stroke-width="1.0"/>
<polyline points="62.5,411 77.6,415.1 92.7,409.3 107.8,422.3 122.9,417 138,406" fill="none" stroke="#a8123e" stroke-width="1.0"/>
<polyline points="62.5,415 77.6,419.7 92.7,413.2 107.8,401 122.9,405 138,410.3" fill="none" stroke="#a8123e" stroke-width="1.0"/>
<polyline points="62.5,404 77.6,398.8 92.7,391 107.8,405 122.9,414 138,420.4" fill="none" stroke="#a8123e" stroke-width="1.0"/>
<polyline points="62.5,425.5 77.6,427.5 92.7,416.4 107.8,426.8 122.9,431.4 138,429 153.1,432 168.2,434.1" fill="none" stroke="#a8123e" stroke-width="1.0"/>
<polyline points="62.5,431 77.6,419.7 92.7,402.1 107.8,397 122.9,406 138,415.4 153.1,400.9" fill="none" stroke="#a8123e" stroke-width="1.0"/>
<polyline points="62.5,416.5 77.6,415.1 92.7,397.5 107.8,420 122.9,405.4 138,406 153.1,417.5 168.2,429 183.3,424 198.4,432" fill="none" stroke="#a8123e" stroke-width="1.0"/>
<polyline points="62.5,399.5 77.6,386 92.7,383.2 107.8,387.1 122.9,394 138,392.3" fill="none" stroke="#a8123e" stroke-width="1.0"/>
<polyline points="62.5,433.5 77.6,418 92.7,409.3 107.8,418 122.9,410 138,415.4" fill="none" stroke="#a8123e" stroke-width="1.0"/>
<polyline points="62.5,407.5 77.6,393.6 92.7,389.7 107.8,374.6 122.9,389.7 138,398" fill="none" stroke="#a8123e" stroke-width="1.0"/>
<circle cx="62.5" cy="398.4" r="1.0" fill="#98002a"/>
<circle cx="77.6" cy="375.2" r="1.0" fill="#98002a"/>
<circle cx="92.7" cy="372.6" r="1.0" fill="#98002a"/>
<circle cx="107.8" cy="374.6" r="1.0" fill="#98002a"/>
<circle cx="122.9" cy="384.2" r="1.0" fill="#98002a"/>
<circle cx="138" cy="392.3" r="1.0" fill="#98002a"/>
<circle cx="153.1" cy="400.9" r="1.0" fill="#98002a"/>
<circle cx="168.2" cy="406" r="1.0" fill="#98002a"/>
<circle cx="183.3" cy="404.8" r="1.0" fill="#98002a"/>
<circle cx="62.5" cy="406.8" r="1.0" fill="#98002a"/>
<circle cx="77.6" cy="376" r="1.0" fill="#98002a"/>
<circle cx="92.7" cy="367.5" r="1.0" fill="#98002a"/>
<circle cx="107.8" cy="381" r="1.0" fill="#98002a"/>
<circle cx="122.9" cy="390.2" r="1.0" fill="#98002a"/>
<circle cx="138" cy="395.2" r="1.0" fill="#98002a"/>
<circle cx="153.1" cy="401" r="1.0" fill="#98002a"/>
<circle cx="168.2" cy="406" r="1.0" fill="#98002a"/>
<circle cx="62.5" cy="413.5" r="1.0" fill="#98002a"/>
<circle cx="77.6" cy="393.6" r="1.0" fill="#98002a"/>
<circle cx="92.7" cy="379.3" r="1.0" fill="#98002a"/>
<circle cx="107.8" cy="387.1" r="1.0" fill="#98002a"/>
<circle cx="122.9" cy="389.7" r="1.0" fill="#98002a"/>
<circle cx="138" cy="406" r="1.0" fill="#98002a"/>
<circle cx="153.1" cy="409.6" r="1.0" fill="#98002a"/>
<circle cx="168.2" cy="411" r="1.0" fill="#98002a"/>
<circle cx="183.3" cy="410" r="1.0" fill="#98002a"/>
<circle cx="198.4" cy="408.1" r="1.0" fill="#98002a"/>
<circle cx="62.5" cy="409.6" r="1.0" fill="#98002a"/>
<circle cx="77.6" cy="398.8" r="1.0" fill="#98002a"/>
<circle cx="92.7" cy="383.2" r="1.0" fill="#98002a"/>
<circle cx="107.8" cy="380.6" r="1.0" fill="#98002a"/>
<circle cx="122.9" cy="393.6" r="1.0" fill="#98002a"/>
<circle cx="138" cy="415.4" r="1.0" fill="#98002a"/>
<circle cx="153.1" cy="387.2" r="1.0" fill="#98002a"/>
<circle cx="168.2" cy="416.8" r="1.0" fill="#98002a"/>
<circle cx="183.3" cy="417.5" r="1.0" fill="#98002a"/>
<circle cx="198.4" cy="425.9" r="1.0" fill="#98002a"/>
<circle cx="62.5" cy="400.6" r="1.0" fill="#98002a"/>
<circle cx="77.6" cy="393.6" r="1.0" fill="#98002a"/>
<circle cx="92.7" cy="389.7" r="1.0" fill="#98002a"/>
<circle cx="107.8" cy="401.4" r="1.0" fill="#98002a"/>
<circle cx="122.9" cy="406" r="1.0" fill="#98002a"/>
<circle cx="138" cy="410.3" r="1.0" fill="#98002a"/>
<circle cx="153.1" cy="417.5" r="1.0" fill="#98002a"/>
<circle cx="168.2" cy="420.4" r="1.0" fill="#98002a"/>
<circle cx="183.3" cy="419" r="1.0" fill="#98002a"/>
<circle cx="198.4" cy="432" r="1.0" fill="#98002a"/>
<circle cx="62.5" cy="402.3" r="1.0" fill="#98002a"/>
<circle cx="77.6" cy="398.8" r="1.0" fill="#98002a"/>
<circle cx="92.7" cy="391" r="1.0" fill="#98002a"/>
<circle cx="107.8" cy="403.4" r="1.0" fill="#98002a"/>
<circle cx="122.9" cy="402" r="1.0" fill="#98002a"/>
<circle cx="138" cy="400" r="1.0" fill="#98002a"/>
<circle cx="153.1" cy="406" r="1.0" fill="#98002a"/>
<circle cx="168.2" cy="414.6" r="1.0" fill="#98002a"/>
<circle cx="183.3" cy="424" r="1.0" fill="#98002a"/>
<circle cx="198.4" cy="433.4" r="1.0" fill="#98002a"/>
<circle cx="62.5" cy="418.6" r="1.0" fill="#98002a"/>
<circle cx="77.6" cy="403" r="1.0" fill="#98002a"/>
<circle cx="92.7" cy="394.3" r="1.0" fill="#98002a"/>
<circle cx="107.8" cy="401.4" r="1.0" fill="#98002a"/>
<circle cx="122.9" cy="410" r="1.0" fill="#98002a"/>
<circle cx="138" cy="420.4" r="1.0" fill="#98002a"/>
<circle cx="153.1" cy="422.6" r="1.0" fill="#98002a"/>
<circle cx="168.2" cy="423.3" r="1.0" fill="#98002a"/>
<circle cx="183.3" cy="433.1" r="1.0" fill="#98002a"/>
<circle cx="62.5" cy="420.2" r="1.0" fill="#98002a"/>
<circle cx="77.6" cy="405" r="1.0" fill="#98002a"/>
<circle cx="92.7" cy="394.3" r="1.0" fill="#98002a"/>
<circle cx="107.8" cy="411.9" r="1.0" fill="#98002a"/>
<circle cx="122.9" cy="417" r="1.0" fill="#98002a"/>
<circle cx="138" cy="422.6" r="1.0" fill="#98002a"/>
<circle cx="153.1" cy="432" r="1.0" fill="#98002a"/>
<circle cx="168.2" cy="429" r="1.0" fill="#98002a"/>
<circle cx="62.5" cy="422.5" r="1.0" fill="#98002a"/>
<circle cx="77.6" cy="415.1" r="1.0" fill="#98002a"/>
<circle cx="92.7" cy="397.5" r="1.0" fill="#98002a"/>
<circle cx="107.8" cy="403.4" r="1.0" fill="#98002a"/>
<circle cx="122.9" cy="419.7" r="1.0" fill="#98002a"/>
<circle cx="138" cy="429" r="1.0" fill="#98002a"/>
<circle cx="153.1" cy="433.7" r="1.0" fill="#98002a"/>
<circle cx="168.2" cy="434.1" r="1.0" fill="#98002a"/>
<circle cx="183.3" cy="433.1" r="1.0" fill="#98002a"/>
<circle cx="198.4" cy="433.4" r="1.0" fill="#98002a"/>
<circle cx="62.5" cy="424.7" r="1.0" fill="#98002a"/>
<circle cx="77.6" cy="417" r="1.0" fill="#98002a"/>
<circle cx="92.7" cy="397.5" r="1.0" fill="#98002a"/>
<circle cx="107.8" cy="411.9" r="1.0" fill="#98002a"/>
<circle cx="122.9" cy="422.3" r="1.0" fill="#98002a"/>
<circle cx="138" cy="434.8" r="1.0" fill="#98002a"/>
<circle cx="62.5" cy="427" r="1.0" fill="#98002a"/>
<circle cx="77.6" cy="419.7" r="1.0" fill="#98002a"/>
<circle cx="92.7" cy="402.1" r="1.0" fill="#98002a"/>
<circle cx="107.8" cy="422.3" r="1.0" fill="#98002a"/>
<circle cx="122.9" cy="423.5" r="1.0" fill="#98002a"/>
<circle cx="138" cy="440.6" r="1.0" fill="#98002a"/>
<circle cx="153.1" cy="422.6" r="1.0" fill="#98002a"/>
<circle cx="62.5" cy="429.2" r="1.0" fill="#98002a"/>
<circle cx="77.6" cy="417" r="1.0" fill="#98002a"/>
<circle cx="92.7" cy="407.3" r="1.0" fill="#98002a"/>
<circle cx="107.8" cy="426.8" r="1.0" fill="#98002a"/>
<circle cx="122.9" cy="431.4" r="1.0" fill="#98002a"/>
<circle cx="138" cy="434.8" r="1.0" fill="#98002a"/>
<circle cx="153.1" cy="433.7" r="1.0" fill="#98002a"/>
<circle cx="168.2" cy="434.1" r="1.0" fill="#98002a"/>
<circle cx="62.5" cy="432.6" r="1.0" fill="#98002a"/>
<circle cx="77.6" cy="427.5" r="1.0" fill="#98002a"/>
<circle cx="92.7" cy="416.4" r="1.0" fill="#98002a"/>
<circle cx="107.8" cy="436.6" r="1.0" fill="#98002a"/>
<circle cx="122.9" cy="437" r="1.0" fill="#98002a"/>
<circle cx="138" cy="437.5" r="1.0" fill="#98002a"/>
<circle cx="153.1" cy="433.7" r="1.0" fill="#98002a"/>
<circle cx="62.5" cy="411" r="1.0" fill="#98002a"/>
<circle cx="77.6" cy="415.1" r="1.0" fill="#98002a"/>
<circle cx="92.7" cy="409.3" r="1.0" fill="#98002a"/>
<circle cx="107.8" cy="422.3" r="1.0" fill="#98002a"/>
<circle cx="122.9" cy="417" r="1.0" fill="#98002a"/>
<circle cx="138" cy="406" r="1.0" fill="#98002a"/>
<circle cx="62.5" cy="415" r="1.0" fill="#98002a"/>
<circle cx="77.6" cy="419.7" r="1.0" fill="#98002a"/>
<circle cx="92.7" cy="413.2" r="1.0" fill="#98002a"/>
<circle cx="107.8" cy="401" r="1.0" fill="#98002a"/>
<circle cx="122.9" cy="405" r="1.0" fill="#98002a"/>
<circle cx="138" cy="410.3" r="1.0" fill="#98002a"/>
<circle cx="62.5" cy="404" r="1.0" fill="#98002a"/>
<circle cx="77.6" cy="398.8" r="1.0" fill="#98002a"/>
<circle cx="92.7" cy="391" r="1.0" fill="#98002a"/>
<circle cx="107.8" cy="405" r="1.0" fill="#98002a"/>
<circle cx="122.9" cy="414" r="1.0" fill="#98002a"/>
<circle cx="138" cy="420.4" r="1.0" fill="#98002a"/>
<circle cx="62.5" cy="425.5" r="1.0" fill="#98002a"/>
<circle cx="77.6" cy="427.5" r="1.0" fill="#98002a"/>
<circle cx="92.7" cy="416.4" r="1.0" fill="#98002a"/>
<circle cx="107.8" cy="426.8" r="1.0" fill="#98002a"/>
<circle cx="122.9" cy="431.4" r="1.0" fill="#98002a"/>
<circle cx="138" cy="429" r="1.0" fill="#98002a"/>
<circle cx="153.1" cy="432" r="1.0" fill="#98002a"/>
<circle cx="168.2" cy="434.1" r="1.0" fill="#98002a"/>
<circle cx="62.5" cy="431" r="1.0" fill="#98002a"/>
<circle cx="77.6" cy="419.7" r="1.0" fill="#98002a"/>
<circle cx="92.7" cy="402.1" r="1.0" fill="#98002a"/>
<circle cx="107.8" cy="397" r="1.0" fill="#98002a"/>
<circle cx="122.9" cy="406" r="1.0" fill="#98002a"/>
<circle cx="138" cy="415.4" r="1.0" fill="#98002a"/>
<circle cx="153.1" cy="400.9" r="1.0" fill="#98002a"/>
<circle cx="62.5" cy="416.5" r="1.0" fill="#98002a"/>
<circle cx="77.6" cy="415.1" r="1.0" fill="#98002a"/>
<circle cx="92.7" cy="397.5" r="1.0" fill="#98002a"/>
<circle cx="107.8" cy="420" r="1.0" fill="#98002a"/>
<circle cx="122.9" cy="405.4" r="1.0" fill="#98002a"/>
<circle cx="138" cy="406" r="1.0" fill="#98002a"/>
<circle cx="153.1" cy="417.5" r="1.0" fill="#98002a"/>
<circle cx="168.2" cy="429" r="1.0" fill="#98002a"/>
<circle cx="183.3" cy="424" r="1.0" fill="#98002a"/>
<circle cx="198.4" cy="432" r="1.0" fill="#98002a"/>
<circle cx="62.5" cy="399.5" r="1.0" fill="#98002a"/>
<circle cx="77.6" cy="386" r="1.0" fill="#98002a"/>
<circle cx="92.7" cy="383.2" r="1.0" fill="#98002a"/>
<circle cx="107.8" cy="387.1" r="1.0" fill="#98002a"/>
<circle cx="122.9" cy="394" r="1.0" fill="#98002a"/>
<circle cx="138" cy="392.3" r="1.0" fill="#98002a"/>
<circle cx="62.5" cy="433.5" r="1.0" fill="#98002a"/>
<circle cx="77.6" cy="418" r="1.0" fill="#98002a"/>
<circle cx="92.7" cy="409.3" r="1.0" fill="#98002a"/>
<circle cx="107.8" cy="418" r="1.0" fill="#98002a"/>
<circle cx="122.9" cy="410" r="1.0" fill="#98002a"/>
<circle cx="138" cy="415.4" r="1.0" fill="#98002a"/>
<circle cx="62.5" cy="407.5" r="1.0" fill="#98002a"/>
<circle cx="77.6" cy="393.6" r="1.0" fill="#98002a"/>
<circle cx="92.7" cy="389.7" r="1.0" fill="#98002a"/>
<circle cx="107.8" cy="374.6" r="1.0" fill="#98002a"/>
<circle cx="122.9" cy="389.7" r="1.0" fill="#98002a"/>
<circle cx="138" cy="398" r="1.0" fill="#98002a"/>
<line x1="224.3" y1="353.2" x2="224.3" y2="444.6" stroke="#222" stroke-width="1.6"/>
<line x1="221.4" y1="356.5" x2="224.3" y2="356.5" stroke="#222" stroke-width="1.2"/>
<line x1="222.4" y1="376.84" x2="224.3" y2="376.84" stroke="#222" stroke-width="0.9"/>
<line x1="222.4" y1="371.72" x2="224.3" y2="371.72" stroke="#222" stroke-width="0.9"/>
<line x1="222.4" y1="368.08" x2="224.3" y2="368.08" stroke="#222" stroke-width="0.9"/>
<line x1="222.4" y1="365.26" x2="224.3" y2="365.26" stroke="#222" stroke-width="0.9"/>
<line x1="222.4" y1="362.96" x2="224.3" y2="362.96" stroke="#222" stroke-width="0.9"/>
<line x1="222.4" y1="361.01" x2="224.3" y2="361.01" stroke="#222" stroke-width="0.9"/>
<line x1="222.4" y1="359.32" x2="224.3" y2="359.32" stroke="#222" stroke-width="0.9"/>
<line x1="222.4" y1="357.83" x2="224.3" y2="357.83" stroke="#222" stroke-width="0.9"/>
<line x1="221.4" y1="385.6" x2="224.3" y2="385.6" stroke="#222" stroke-width="1.2"/>
<line x1="222.4" y1="405.94" x2="224.3" y2="405.94" stroke="#222" stroke-width="0.9"/>
<line x1="222.4" y1="400.82" x2="224.3" y2="400.82" stroke="#222" stroke-width="0.9"/>
<line x1="222.4" y1="397.18" x2="224.3" y2="397.18" stroke="#222" stroke-width="0.9"/>
<line x1="222.4" y1="394.36" x2="224.3" y2="394.36" stroke="#222" stroke-width="0.9"/>
<line x1="222.4" y1="392.06" x2="224.3" y2="392.06" stroke="#222" stroke-width="0.9"/>
<line x1="222.4" y1="390.11" x2="224.3" y2="390.11" stroke="#222" stroke-width="0.9"/>
<line x1="222.4" y1="388.42" x2="224.3" y2="388.42" stroke="#222" stroke-width="0.9"/>
<line x1="222.4" y1="386.93" x2="224.3" y2="386.93" stroke="#222" stroke-width="0.9"/>
<line x1="221.4" y1="414.7" x2="224.3" y2="414.7" stroke="#222" stroke-width="1.2"/>
<line x1="222.4" y1="435.04" x2="224.3" y2="435.04" stroke="#222" stroke-width="0.9"/>
<line x1="222.4" y1="429.92" x2="224.3" y2="429.92" stroke="#222" stroke-width="0.9"/>
<line x1="222.4" y1="426.28" x2="224.3" y2="426.28" stroke="#222" stroke-width="0.9"/>
<line x1="222.4" y1="423.46" x2="224.3" y2="423.46" stroke="#222" stroke-width="0.9"/>
<line x1="222.4" y1="421.16" x2="224.3" y2="421.16" stroke="#222" stroke-width="0.9"/>
<line x1="222.4" y1="419.21" x2="224.3" y2="419.21" stroke="#222" stroke-width="0.9"/>
<line x1="222.4" y1="417.52" x2="224.3" y2="417.52" stroke="#222" stroke-width="0.9"/>
<line x1="222.4" y1="416.03" x2="224.3" y2="416.03" stroke="#222" stroke-width="0.9"/>
<line x1="221.4" y1="443.8" x2="224.3" y2="443.8" stroke="#222" stroke-width="1.2"/>
<line x1="223.5" y1="444.2" x2="382" y2="444.2" stroke="#222" stroke-width="1.6"/>
<line x1="224.3" y1="444.2" x2="224.3" y2="447.2" stroke="#222" stroke-width="1.1"/>
<line x1="239.5" y1="444.2" x2="239.5" y2="447.2" stroke="#222" stroke-width="1.1"/>
<text x="243.3" y="454" font-size="7.2" text-anchor="end" fill="#333" textLength="9.36" lengthAdjust="spacingAndGlyphs" transform="rotate(-45 243.3 454)" stroke="#333" stroke-width="0.18">1-5</text>
<line x1="254.5" y1="444.2" x2="254.5" y2="447.2" stroke="#222" stroke-width="1.1"/>
<text x="258.3" y="454" font-size="7.2" text-anchor="end" fill="#333" textLength="12.96" lengthAdjust="spacingAndGlyphs" transform="rotate(-45 258.3 454)" stroke="#333" stroke-width="0.18">6-10</text>
<line x1="269.5" y1="444.2" x2="269.5" y2="447.2" stroke="#222" stroke-width="1.1"/>
<text x="273.3" y="454" font-size="7.2" text-anchor="end" fill="#333" textLength="16.57" lengthAdjust="spacingAndGlyphs" transform="rotate(-45 273.3 454)" stroke="#333" stroke-width="0.18">11-20</text>
<line x1="284.5" y1="444.2" x2="284.5" y2="447.2" stroke="#222" stroke-width="1.1"/>
<text x="288.3" y="454" font-size="7.2" text-anchor="end" fill="#333" textLength="16.57" lengthAdjust="spacingAndGlyphs" transform="rotate(-45 288.3 454)" stroke="#333" stroke-width="0.18">21-40</text>
<line x1="299.5" y1="444.2" x2="299.5" y2="447.2" stroke="#222" stroke-width="1.1"/>
<text x="303.3" y="454" font-size="7.2" text-anchor="end" fill="#333" textLength="16.57" lengthAdjust="spacingAndGlyphs" transform="rotate(-45 303.3 454)" stroke="#333" stroke-width="0.18">41-60</text>
<line x1="314.5" y1="444.2" x2="314.5" y2="447.2" stroke="#222" stroke-width="1.1"/>
<text x="318.3" y="454" font-size="7.2" text-anchor="end" fill="#333" textLength="20.17" lengthAdjust="spacingAndGlyphs" transform="rotate(-45 318.3 454)" stroke="#333" stroke-width="0.18">61-100</text>
<line x1="329.5" y1="444.2" x2="329.5" y2="447.2" stroke="#222" stroke-width="1.1"/>
<text x="333.3" y="454" font-size="7.2" text-anchor="end" fill="#333" textLength="23.78" lengthAdjust="spacingAndGlyphs" transform="rotate(-45 333.3 454)" stroke="#333" stroke-width="0.18">101-200</text>
<line x1="344.5" y1="444.2" x2="344.5" y2="447.2" stroke="#222" stroke-width="1.1"/>
<text x="348.3" y="454" font-size="7.2" text-anchor="end" fill="#333" textLength="23.78" lengthAdjust="spacingAndGlyphs" transform="rotate(-45 348.3 454)" stroke="#333" stroke-width="0.18">201-300</text>
<line x1="359.5" y1="444.2" x2="359.5" y2="447.2" stroke="#222" stroke-width="1.1"/>
<text x="363.3" y="454" font-size="7.2" text-anchor="end" fill="#333" textLength="23.78" lengthAdjust="spacingAndGlyphs" transform="rotate(-45 363.3 454)" stroke="#333" stroke-width="0.18">301-400</text>
<line x1="374.5" y1="444.2" x2="374.5" y2="447.2" stroke="#222" stroke-width="1.1"/>
<text x="378.3" y="454" font-size="7.2" text-anchor="end" fill="#333" textLength="14.59" lengthAdjust="spacingAndGlyphs" transform="rotate(-45 378.3 454)" stroke="#333" stroke-width="0.18">&gt;400</text>
<text x="303.3" y="482.5" font-size="9.7" text-anchor="middle" fill="#333" textLength="57.2" lengthAdjust="spacingAndGlyphs" stroke="#333" stroke-width="0.15">Days after infusion</text>
<text x="302.8" y="348.3" font-size="9.8" text-anchor="middle" fill="#333" textLength="33.6" lengthAdjust="spacingAndGlyphs" stroke="#333" stroke-width="0.15">PD(N=5)</text>
<polyline points="239.5,423.4 254.5,394.5 269.5,399.6 284.5,389.7 299.5,418.4 314.5,416 329.5,428.9" fill="none" stroke="#2f4c8a" stroke-width="0.85"/>
<circle cx="239.5" cy="423.4" r="0.85" fill="#1a2e6a"/>
<circle cx="254.5" cy="394.5" r="0.85" fill="#1a2e6a"/>
<circle cx="269.5" cy="399.6" r="0.85" fill="#1a2e6a"/>
<circle cx="284.5" cy="389.7" r="0.85" fill="#1a2e6a"/>
<circle cx="299.5" cy="418.4" r="0.85" fill="#1a2e6a"/>
<circle cx="314.5" cy="416" r="0.85" fill="#1a2e6a"/>
<circle cx="329.5" cy="428.9" r="0.85" fill="#1a2e6a"/>
<polyline points="239.5,426.8 254.5,407.3 269.5,389.7 284.5,420.4 299.5,424 314.5,420" fill="none" stroke="#2f4c8a" stroke-width="0.85"/>
<circle cx="239.5" cy="426.8" r="0.85" fill="#1a2e6a"/>
<circle cx="254.5" cy="407.3" r="0.85" fill="#1a2e6a"/>
<circle cx="269.5" cy="389.7" r="0.85" fill="#1a2e6a"/>
<circle cx="284.5" cy="420.4" r="0.85" fill="#1a2e6a"/>
<circle cx="299.5" cy="424" r="0.85" fill="#1a2e6a"/>
<circle cx="314.5" cy="420" r="0.85" fill="#1a2e6a"/>
<polyline points="239.5,428.5 254.5,409.9 269.5,407.3 284.5,420.4 299.5,435 314.5,432.5 329.5,419.5" fill="none" stroke="#2f4c8a" stroke-width="0.85"/>
<circle cx="239.5" cy="428.5" r="0.85" fill="#1a2e6a"/>
<circle cx="254.5" cy="409.9" r="0.85" fill="#1a2e6a"/>
<circle cx="269.5" cy="407.3" r="0.85" fill="#1a2e6a"/>
<circle cx="284.5" cy="420.4" r="0.85" fill="#1a2e6a"/>
<circle cx="299.5" cy="435" r="0.85" fill="#1a2e6a"/>
<circle cx="314.5" cy="432.5" r="0.85" fill="#1a2e6a"/>
<circle cx="329.5" cy="419.5" r="0.85" fill="#1a2e6a"/>
<polyline points="239.5,430.5 254.5,418.8 269.5,389.7 284.5,426.3 299.5,435 314.5,435.5" fill="none" stroke="#2f4c8a" stroke-width="0.85"/>
<circle cx="239.5" cy="430.5" r="0.85" fill="#1a2e6a"/>
<circle cx="254.5" cy="418.8" r="0.85" fill="#1a2e6a"/>
<circle cx="269.5" cy="389.7" r="0.85" fill="#1a2e6a"/>
<circle cx="284.5" cy="426.3" r="0.85" fill="#1a2e6a"/>
<circle cx="299.5" cy="435" r="0.85" fill="#1a2e6a"/>
<circle cx="314.5" cy="435.5" r="0.85" fill="#1a2e6a"/>
<polyline points="239.5,431.5 254.5,421.3 269.5,420 284.5,426.3 299.5,424 314.5,424.5" fill="none" stroke="#2f4c8a" stroke-width="0.85"/>
<circle cx="239.5" cy="431.5" r="0.85" fill="#1a2e6a"/>
<circle cx="254.5" cy="421.3" r="0.85" fill="#1a2e6a"/>
<circle cx="269.5" cy="420" r="0.85" fill="#1a2e6a"/>
<circle cx="284.5" cy="426.3" r="0.85" fill="#1a2e6a"/>
<circle cx="299.5" cy="424" r="0.85" fill="#1a2e6a"/>
<circle cx="314.5" cy="424.5" r="0.85" fill="#1a2e6a"/>
</svg>
</body></html>
